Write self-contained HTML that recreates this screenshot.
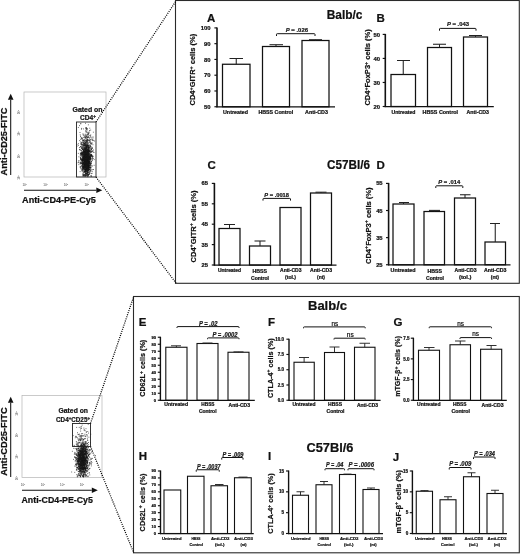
<!DOCTYPE html><html><head><meta charset="utf-8"><style>html,body{margin:0;padding:0;background:#fff}svg{display:block;filter:blur(0.3px)}</style></head><body>
<svg width="520" height="554" viewBox="0 0 520 554" font-family="Liberation Sans, sans-serif"><style>text{stroke:#111;stroke-width:0.22px;stroke-linejoin:round}</style>
<rect width="520" height="554" fill="#fff"/>
<rect x="175.5" y="0.5" width="343.8" height="282.8" fill="none" stroke="#2a2a2a" stroke-width="1.1"/>
<rect x="133.5" y="296.5" width="385.8" height="256.3" fill="none" stroke="#2a2a2a" stroke-width="1.1"/>
<rect x="222.50" y="64.25" width="27.50" height="42.50" fill="#fff" stroke="#111" stroke-width="1.25"/>
<rect x="262.50" y="46.50" width="27.00" height="60.25" fill="#fff" stroke="#111" stroke-width="1.25"/>
<rect x="302.00" y="40.50" width="27.00" height="66.25" fill="#fff" stroke="#111" stroke-width="1.25"/>
<line x1="236.25" y1="64.25" x2="236.25" y2="58.50" stroke="#222" stroke-width="1.0625" />
<line x1="229.50" y1="58.50" x2="243.00" y2="58.50" stroke="#222" stroke-width="1.0625" />
<line x1="276.00" y1="46.50" x2="276.00" y2="44.70" stroke="#222" stroke-width="1.0625" />
<line x1="269.50" y1="44.70" x2="283.00" y2="44.70" stroke="#222" stroke-width="1.0625" />
<line x1="315.50" y1="40.50" x2="315.50" y2="39.70" stroke="#222" stroke-width="1.0625" />
<line x1="309.00" y1="39.70" x2="322.00" y2="39.70" stroke="#222" stroke-width="1.0625" />
<line x1="217.00" y1="27.40" x2="217.00" y2="107.35" stroke="#111" stroke-width="1.6" />
<line x1="216.40" y1="106.75" x2="335.00" y2="106.75" stroke="#111" stroke-width="1.25" />
<line x1="214.40" y1="27.90" x2="217.00" y2="27.90" stroke="#111" stroke-width="1.15" />
<text x="210.50" y="30.02" font-size="5.9" font-weight="bold" text-anchor="end" fill="#111" >100</text>
<line x1="214.40" y1="43.67" x2="217.00" y2="43.67" stroke="#111" stroke-width="1.15" />
<text x="210.50" y="45.79" font-size="5.9" font-weight="bold" text-anchor="end" fill="#111" >90</text>
<line x1="214.40" y1="59.44" x2="217.00" y2="59.44" stroke="#111" stroke-width="1.15" />
<text x="210.50" y="61.56" font-size="5.9" font-weight="bold" text-anchor="end" fill="#111" >80</text>
<line x1="214.40" y1="75.21" x2="217.00" y2="75.21" stroke="#111" stroke-width="1.15" />
<text x="210.50" y="77.33" font-size="5.9" font-weight="bold" text-anchor="end" fill="#111" >70</text>
<line x1="214.40" y1="90.98" x2="217.00" y2="90.98" stroke="#111" stroke-width="1.15" />
<text x="210.50" y="93.10" font-size="5.9" font-weight="bold" text-anchor="end" fill="#111" >60</text>
<line x1="214.40" y1="106.75" x2="217.00" y2="106.75" stroke="#111" stroke-width="1.15" />
<text x="210.50" y="108.87" font-size="5.9" font-weight="bold" text-anchor="end" fill="#111" >50</text>
<text x="223.00" y="114.20" font-size="5.3" font-weight="bold" text-anchor="start" textLength="25.00" lengthAdjust="spacingAndGlyphs" fill="#111" >Untreated</text>
<text x="258.50" y="114.20" font-size="5.3" font-weight="bold" text-anchor="start" textLength="34.80" lengthAdjust="spacingAndGlyphs" fill="#111" >HBSS Control</text>
<text x="305.00" y="114.20" font-size="5.3" font-weight="bold" text-anchor="start" textLength="23.00" lengthAdjust="spacingAndGlyphs" fill="#111" >Anti-CD3</text>
<text transform="translate(195.34,69.62) rotate(-90)" font-size="7.9" font-weight="bold" text-anchor="middle" textLength="71.75" lengthAdjust="spacingAndGlyphs" fill="#111">CD4<tspan dy="-2.4" font-size="70%">+</tspan><tspan dy="2.4">GITR<tspan dy="-2.4" font-size="70%">+</tspan><tspan dy="2.4"> cells (%)</tspan></tspan></text>
<path d="M276.50,36.00 L276.50,34.30 Q276.50,33.70 277.30,33.70 L314.20,33.70 Q315.00,33.70 315.00,34.30 L315.00,36.00" fill="none" stroke="#111" stroke-width="1.0"/>
<text x="285.75" y="31.90" font-size="6.2" font-weight="bold" text-anchor="start" textLength="22.25" lengthAdjust="spacingAndGlyphs" fill="#222" ><tspan font-style="italic">P</tspan> = .026</text>
<text x="207.00" y="21.50" font-size="11.5" font-weight="bold" text-anchor="start" fill="#111" >A</text>
<rect x="391.00" y="74.50" width="24.50" height="32.00" fill="#fff" stroke="#111" stroke-width="1.25"/>
<rect x="427.50" y="47.50" width="24.00" height="59.00" fill="#fff" stroke="#111" stroke-width="1.25"/>
<rect x="463.50" y="37.00" width="24.00" height="69.50" fill="#fff" stroke="#111" stroke-width="1.25"/>
<line x1="403.25" y1="74.50" x2="403.25" y2="60.50" stroke="#222" stroke-width="1.0625" />
<line x1="397.00" y1="60.50" x2="410.00" y2="60.50" stroke="#222" stroke-width="1.0625" />
<line x1="439.50" y1="47.50" x2="439.50" y2="44.25" stroke="#222" stroke-width="1.0625" />
<line x1="433.00" y1="44.25" x2="446.00" y2="44.25" stroke="#222" stroke-width="1.0625" />
<line x1="475.50" y1="37.00" x2="475.50" y2="35.50" stroke="#222" stroke-width="1.0625" />
<line x1="469.00" y1="35.50" x2="482.00" y2="35.50" stroke="#222" stroke-width="1.0625" />
<line x1="385.30" y1="33.90" x2="385.30" y2="107.10" stroke="#111" stroke-width="1.6" />
<line x1="384.70" y1="106.50" x2="493.80" y2="106.50" stroke="#111" stroke-width="1.25" />
<line x1="382.70" y1="34.40" x2="385.30" y2="34.40" stroke="#111" stroke-width="1.15" />
<text x="380.00" y="36.52" font-size="5.9" font-weight="bold" text-anchor="end" fill="#111" >50</text>
<line x1="382.70" y1="58.43" x2="385.30" y2="58.43" stroke="#111" stroke-width="1.15" />
<text x="380.00" y="60.56" font-size="5.9" font-weight="bold" text-anchor="end" fill="#111" >40</text>
<line x1="382.70" y1="82.47" x2="385.30" y2="82.47" stroke="#111" stroke-width="1.15" />
<text x="380.00" y="84.59" font-size="5.9" font-weight="bold" text-anchor="end" fill="#111" >30</text>
<line x1="382.70" y1="106.50" x2="385.30" y2="106.50" stroke="#111" stroke-width="1.15" />
<text x="380.00" y="108.62" font-size="5.9" font-weight="bold" text-anchor="end" fill="#111" >20</text>
<text x="391.50" y="114.40" font-size="5.3" font-weight="bold" text-anchor="start" textLength="24.00" lengthAdjust="spacingAndGlyphs" fill="#111" >Untreated</text>
<text x="422.50" y="114.40" font-size="5.3" font-weight="bold" text-anchor="start" textLength="35.50" lengthAdjust="spacingAndGlyphs" fill="#111" >HBSS Control</text>
<text x="466.50" y="114.40" font-size="5.3" font-weight="bold" text-anchor="start" textLength="22.50" lengthAdjust="spacingAndGlyphs" fill="#111" >Anti-CD3</text>
<text transform="translate(370.14,67.45) rotate(-90)" font-size="7.9" font-weight="bold" text-anchor="middle" textLength="76.30" lengthAdjust="spacingAndGlyphs" fill="#111">CD4<tspan dy="-2.4" font-size="70%">+</tspan><tspan dy="2.4">FoxP3<tspan dy="-2.4" font-size="70%">+</tspan><tspan dy="2.4"> cells (%)</tspan></tspan></text>
<path d="M439.50,30.70 L439.50,29.00 Q439.50,28.40 440.30,28.40 L475.20,28.40 Q476.00,28.40 476.00,29.00 L476.00,30.70" fill="none" stroke="#111" stroke-width="1.0"/>
<text x="447.00" y="26.30" font-size="6.2" font-weight="bold" text-anchor="start" textLength="22.00" lengthAdjust="spacingAndGlyphs" fill="#222" ><tspan font-style="italic">P</tspan> = .043</text>
<text x="376.40" y="21.60" font-size="11.5" font-weight="bold" text-anchor="start" fill="#111" >B</text>
<text x="326.75" y="19.20" font-size="12" font-weight="bold" text-anchor="start" textLength="35.75" lengthAdjust="spacingAndGlyphs" fill="#111" >Balb/c</text>
<rect x="219.00" y="228.50" width="21.00" height="36.50" fill="#fff" stroke="#111" stroke-width="1.25"/>
<rect x="249.50" y="246.00" width="21.00" height="19.00" fill="#fff" stroke="#111" stroke-width="1.25"/>
<rect x="280.00" y="207.50" width="21.00" height="57.50" fill="#fff" stroke="#111" stroke-width="1.25"/>
<rect x="310.50" y="193.00" width="21.00" height="72.00" fill="#fff" stroke="#111" stroke-width="1.25"/>
<line x1="229.50" y1="228.50" x2="229.50" y2="224.50" stroke="#222" stroke-width="1.0625" />
<line x1="224.00" y1="224.50" x2="235.00" y2="224.50" stroke="#222" stroke-width="1.0625" />
<line x1="260.00" y1="246.00" x2="260.00" y2="241.00" stroke="#222" stroke-width="1.0625" />
<line x1="254.50" y1="241.00" x2="265.50" y2="241.00" stroke="#222" stroke-width="1.0625" />
<line x1="321.00" y1="193.00" x2="321.00" y2="192.20" stroke="#222" stroke-width="1.0625" />
<line x1="315.50" y1="192.20" x2="326.50" y2="192.20" stroke="#222" stroke-width="1.0625" />
<line x1="214.40" y1="182.90" x2="214.40" y2="265.60" stroke="#111" stroke-width="1.6" />
<line x1="213.80" y1="265.00" x2="336.50" y2="265.00" stroke="#111" stroke-width="1.25" />
<line x1="211.80" y1="183.40" x2="214.40" y2="183.40" stroke="#111" stroke-width="1.15" />
<text x="208.00" y="185.49" font-size="5.8" font-weight="bold" text-anchor="end" fill="#111" >65</text>
<line x1="211.80" y1="203.80" x2="214.40" y2="203.80" stroke="#111" stroke-width="1.15" />
<text x="208.00" y="205.89" font-size="5.8" font-weight="bold" text-anchor="end" fill="#111" >55</text>
<line x1="211.80" y1="224.20" x2="214.40" y2="224.20" stroke="#111" stroke-width="1.15" />
<text x="208.00" y="226.29" font-size="5.8" font-weight="bold" text-anchor="end" fill="#111" >45</text>
<line x1="211.80" y1="244.60" x2="214.40" y2="244.60" stroke="#111" stroke-width="1.15" />
<text x="208.00" y="246.69" font-size="5.8" font-weight="bold" text-anchor="end" fill="#111" >35</text>
<line x1="211.80" y1="265.00" x2="214.40" y2="265.00" stroke="#111" stroke-width="1.15" />
<text x="208.00" y="267.09" font-size="5.8" font-weight="bold" text-anchor="end" fill="#111" >25</text>
<text x="218.00" y="272.00" font-size="4.9" font-weight="bold" text-anchor="start" textLength="23.00" lengthAdjust="spacingAndGlyphs" fill="#111" >Untreated</text>
<text x="252.50" y="273.20" font-size="4.9" font-weight="bold" text-anchor="start" textLength="14.50" lengthAdjust="spacingAndGlyphs" fill="#111" >HBSS</text>
<text x="251.00" y="280.10" font-size="4.9" font-weight="bold" text-anchor="start" textLength="18.00" lengthAdjust="spacingAndGlyphs" fill="#111" >Control</text>
<text x="280.00" y="272.00" font-size="4.9" font-weight="bold" text-anchor="start" textLength="21.50" lengthAdjust="spacingAndGlyphs" fill="#111" >Anti-CD3</text>
<text x="285.00" y="279.30" font-size="4.9" font-weight="bold" text-anchor="start" textLength="11.00" lengthAdjust="spacingAndGlyphs" fill="#111" >(tol.)</text>
<text x="310.00" y="272.00" font-size="4.9" font-weight="bold" text-anchor="start" textLength="22.00" lengthAdjust="spacingAndGlyphs" fill="#111" >Anti-CD3</text>
<text x="317.00" y="279.30" font-size="4.9" font-weight="bold" text-anchor="start" textLength="8.00" lengthAdjust="spacingAndGlyphs" fill="#111" >(nt)</text>
<text transform="translate(195.59,226.50) rotate(-90)" font-size="7.9" font-weight="bold" text-anchor="middle" textLength="72.00" lengthAdjust="spacingAndGlyphs" fill="#111">CD4<tspan dy="-2.4" font-size="70%">+</tspan><tspan dy="2.4">GITR<tspan dy="-2.4" font-size="70%">+</tspan><tspan dy="2.4"> cells (%)</tspan></tspan></text>
<path d="M263.00,200.60 L263.00,199.00 Q263.00,198.40 263.80,198.40 L289.70,198.40 Q290.50,198.40 290.50,199.00 L290.50,200.60" fill="none" stroke="#111" stroke-width="1.0"/>
<text x="264.30" y="197.10" font-size="5.8" font-weight="bold" text-anchor="start" textLength="24.70" lengthAdjust="spacingAndGlyphs" fill="#222" ><tspan font-style="italic">P</tspan> = .0018</text>
<text x="207.50" y="168.70" font-size="11.5" font-weight="bold" text-anchor="start" fill="#111" >C</text>
<text x="327.00" y="169.00" font-size="12" font-weight="bold" text-anchor="start" textLength="43.00" lengthAdjust="spacingAndGlyphs" fill="#111" >C57Bl/6</text>
<text x="376.50" y="169.00" font-size="11.5" font-weight="bold" text-anchor="start" fill="#111" >D</text>
<rect x="393.00" y="204.00" width="21.00" height="60.75" fill="#fff" stroke="#111" stroke-width="1.25"/>
<rect x="424.00" y="211.50" width="20.50" height="53.25" fill="#fff" stroke="#111" stroke-width="1.25"/>
<rect x="454.50" y="198.00" width="21.00" height="66.75" fill="#fff" stroke="#111" stroke-width="1.25"/>
<rect x="485.00" y="242.00" width="20.50" height="22.75" fill="#fff" stroke="#111" stroke-width="1.25"/>
<line x1="403.50" y1="204.00" x2="403.50" y2="202.50" stroke="#222" stroke-width="1.0625" />
<line x1="399.00" y1="202.50" x2="409.00" y2="202.50" stroke="#222" stroke-width="1.0625" />
<line x1="434.25" y1="211.50" x2="434.25" y2="210.40" stroke="#222" stroke-width="1.0625" />
<line x1="429.00" y1="210.40" x2="440.00" y2="210.40" stroke="#222" stroke-width="1.0625" />
<line x1="465.00" y1="198.00" x2="465.00" y2="194.75" stroke="#222" stroke-width="1.0625" />
<line x1="460.00" y1="194.75" x2="470.50" y2="194.75" stroke="#222" stroke-width="1.0625" />
<line x1="495.25" y1="242.00" x2="495.25" y2="223.50" stroke="#222" stroke-width="1.0625" />
<line x1="490.00" y1="223.50" x2="500.00" y2="223.50" stroke="#222" stroke-width="1.0625" />
<line x1="388.60" y1="182.90" x2="388.60" y2="265.35" stroke="#111" stroke-width="1.6" />
<line x1="388.00" y1="264.75" x2="510.50" y2="264.75" stroke="#111" stroke-width="1.25" />
<line x1="386.00" y1="183.40" x2="388.60" y2="183.40" stroke="#111" stroke-width="1.15" />
<text x="382.60" y="185.49" font-size="5.8" font-weight="bold" text-anchor="end" fill="#111" >55</text>
<line x1="386.00" y1="210.52" x2="388.60" y2="210.52" stroke="#111" stroke-width="1.15" />
<text x="382.60" y="212.60" font-size="5.8" font-weight="bold" text-anchor="end" fill="#111" >45</text>
<line x1="386.00" y1="237.63" x2="388.60" y2="237.63" stroke="#111" stroke-width="1.15" />
<text x="382.60" y="239.72" font-size="5.8" font-weight="bold" text-anchor="end" fill="#111" >35</text>
<line x1="386.00" y1="264.75" x2="388.60" y2="264.75" stroke="#111" stroke-width="1.15" />
<text x="382.60" y="266.84" font-size="5.8" font-weight="bold" text-anchor="end" fill="#111" >25</text>
<text x="390.60" y="272.00" font-size="4.9" font-weight="bold" text-anchor="start" textLength="24.90" lengthAdjust="spacingAndGlyphs" fill="#111" >Untreated</text>
<text x="427.50" y="273.20" font-size="4.9" font-weight="bold" text-anchor="start" textLength="14.50" lengthAdjust="spacingAndGlyphs" fill="#111" >HBSS</text>
<text x="426.00" y="280.10" font-size="4.9" font-weight="bold" text-anchor="start" textLength="18.00" lengthAdjust="spacingAndGlyphs" fill="#111" >Control</text>
<text x="454.50" y="272.00" font-size="4.9" font-weight="bold" text-anchor="start" textLength="22.00" lengthAdjust="spacingAndGlyphs" fill="#111" >Anti-CD3</text>
<text x="459.00" y="279.30" font-size="4.9" font-weight="bold" text-anchor="start" textLength="12.40" lengthAdjust="spacingAndGlyphs" fill="#111" >(tol.)</text>
<text x="484.00" y="272.00" font-size="4.9" font-weight="bold" text-anchor="start" textLength="22.50" lengthAdjust="spacingAndGlyphs" fill="#111" >Anti-CD3</text>
<text x="490.80" y="279.30" font-size="4.9" font-weight="bold" text-anchor="start" textLength="8.20" lengthAdjust="spacingAndGlyphs" fill="#111" >(nt)</text>
<text transform="translate(370.59,225.75) rotate(-90)" font-size="7.9" font-weight="bold" text-anchor="middle" textLength="76.50" lengthAdjust="spacingAndGlyphs" fill="#111">CD4<tspan dy="-2.4" font-size="70%">+</tspan><tspan dy="2.4">FoxP3<tspan dy="-2.4" font-size="70%">+</tspan><tspan dy="2.4"> cells (%)</tspan></tspan></text>
<path d="M435.80,188.00 L435.80,186.40 Q435.80,185.80 436.60,185.80 L462.00,185.80 Q462.80,185.80 462.80,186.40 L462.80,188.00" fill="none" stroke="#111" stroke-width="1.0"/>
<text x="438.30" y="183.90" font-size="5.8" font-weight="bold" text-anchor="start" textLength="21.90" lengthAdjust="spacingAndGlyphs" fill="#222" ><tspan font-style="italic">P</tspan> = .014</text>
<rect x="165.80" y="347.25" width="21.20" height="53.00" fill="#fff" stroke="#111" stroke-width="1.1"/>
<rect x="197.00" y="343.50" width="21.00" height="56.75" fill="#fff" stroke="#111" stroke-width="1.1"/>
<rect x="228.00" y="352.25" width="21.00" height="48.00" fill="#fff" stroke="#111" stroke-width="1.1"/>
<line x1="176.40" y1="347.25" x2="176.40" y2="345.80" stroke="#222" stroke-width="0.935" />
<line x1="171.00" y1="345.80" x2="181.00" y2="345.80" stroke="#222" stroke-width="0.935" />
<line x1="207.50" y1="343.50" x2="207.50" y2="343.00" stroke="#222" stroke-width="0.935" />
<line x1="202.50" y1="343.00" x2="212.50" y2="343.00" stroke="#222" stroke-width="0.935" />
<line x1="238.50" y1="352.25" x2="238.50" y2="351.90" stroke="#222" stroke-width="0.935" />
<line x1="233.50" y1="351.90" x2="243.50" y2="351.90" stroke="#222" stroke-width="0.935" />
<line x1="160.40" y1="336.75" x2="160.40" y2="400.85" stroke="#111" stroke-width="1.4" />
<line x1="159.80" y1="400.25" x2="254.80" y2="400.25" stroke="#111" stroke-width="1.25" />
<line x1="157.80" y1="337.25" x2="160.40" y2="337.25" stroke="#111" stroke-width="1.15" />
<text x="156.00" y="338.69" font-size="4.0" font-weight="bold" text-anchor="end" fill="#111" >90</text>
<line x1="157.80" y1="344.25" x2="160.40" y2="344.25" stroke="#111" stroke-width="1.15" />
<text x="156.00" y="345.69" font-size="4.0" font-weight="bold" text-anchor="end" fill="#111" >80</text>
<line x1="157.80" y1="351.25" x2="160.40" y2="351.25" stroke="#111" stroke-width="1.15" />
<text x="156.00" y="352.69" font-size="4.0" font-weight="bold" text-anchor="end" fill="#111" >70</text>
<line x1="157.80" y1="358.25" x2="160.40" y2="358.25" stroke="#111" stroke-width="1.15" />
<text x="156.00" y="359.69" font-size="4.0" font-weight="bold" text-anchor="end" fill="#111" >60</text>
<line x1="157.80" y1="365.25" x2="160.40" y2="365.25" stroke="#111" stroke-width="1.15" />
<text x="156.00" y="366.69" font-size="4.0" font-weight="bold" text-anchor="end" fill="#111" >50</text>
<line x1="157.80" y1="372.25" x2="160.40" y2="372.25" stroke="#111" stroke-width="1.15" />
<text x="156.00" y="373.69" font-size="4.0" font-weight="bold" text-anchor="end" fill="#111" >40</text>
<line x1="157.80" y1="379.25" x2="160.40" y2="379.25" stroke="#111" stroke-width="1.15" />
<text x="156.00" y="380.69" font-size="4.0" font-weight="bold" text-anchor="end" fill="#111" >30</text>
<line x1="157.80" y1="386.25" x2="160.40" y2="386.25" stroke="#111" stroke-width="1.15" />
<text x="156.00" y="387.69" font-size="4.0" font-weight="bold" text-anchor="end" fill="#111" >20</text>
<line x1="157.80" y1="393.25" x2="160.40" y2="393.25" stroke="#111" stroke-width="1.15" />
<text x="156.00" y="394.69" font-size="4.0" font-weight="bold" text-anchor="end" fill="#111" >10</text>
<line x1="157.80" y1="400.25" x2="160.40" y2="400.25" stroke="#111" stroke-width="1.15" />
<text x="156.00" y="401.69" font-size="4.0" font-weight="bold" text-anchor="end" fill="#111" >0</text>
<text x="164.25" y="406.00" font-size="5.0" font-weight="bold" text-anchor="start" textLength="23.75" lengthAdjust="spacingAndGlyphs" fill="#111" >Untreated</text>
<text x="201.25" y="406.30" font-size="5.0" font-weight="bold" text-anchor="start" textLength="13.25" lengthAdjust="spacingAndGlyphs" fill="#111" >HBSS</text>
<text x="199.00" y="412.60" font-size="5.0" font-weight="bold" text-anchor="start" textLength="17.50" lengthAdjust="spacingAndGlyphs" fill="#111" >Control</text>
<text x="228.50" y="407.20" font-size="5.0" font-weight="bold" text-anchor="start" textLength="21.50" lengthAdjust="spacingAndGlyphs" fill="#111" >Anti-CD3</text>
<text transform="translate(144.94,368.30) rotate(-90)" font-size="7.6" font-weight="bold" text-anchor="middle" textLength="57.00" lengthAdjust="spacingAndGlyphs" fill="#111">CD62L<tspan dy="-2.4" font-size="70%">+</tspan><tspan dy="2.4"> cells (%)</tspan></text>
<path d="M177.00,328.00 L177.00,327.20 Q177.00,326.60 177.80,326.60 L238.20,326.60 Q239.00,326.60 239.00,327.20 L239.00,328.00" fill="none" stroke="#111" stroke-width="1.0"/>
<text x="199.00" y="326.00" font-size="6.3" font-weight="bold" text-anchor="start" textLength="18.50" lengthAdjust="spacingAndGlyphs" font-style="italic" fill="#222" >P = .02</text>
<path d="M207.50,339.20 L207.50,338.50 Q207.50,337.90 208.30,337.90 L238.20,337.90 Q239.00,337.90 239.00,338.50 L239.00,339.20" fill="none" stroke="#111" stroke-width="1.0"/>
<text x="212.50" y="337.00" font-size="6.3" font-weight="bold" text-anchor="start" textLength="25.00" lengthAdjust="spacingAndGlyphs" font-style="italic" fill="#222" >P = .0002</text>
<text x="138.80" y="326.00" font-size="11.5" font-weight="bold" text-anchor="start" fill="#111" >E</text>
<text x="308.00" y="310.00" font-size="13" font-weight="bold" text-anchor="start" textLength="39.00" lengthAdjust="spacingAndGlyphs" fill="#111" >Balb/c</text>
<rect x="294.00" y="362.25" width="20.25" height="38.00" fill="#fff" stroke="#111" stroke-width="1.1"/>
<rect x="324.50" y="352.50" width="20.00" height="47.75" fill="#fff" stroke="#111" stroke-width="1.1"/>
<rect x="354.50" y="347.25" width="20.50" height="53.00" fill="#fff" stroke="#111" stroke-width="1.1"/>
<line x1="304.12" y1="362.25" x2="304.12" y2="357.50" stroke="#222" stroke-width="0.935" />
<line x1="299.00" y1="357.50" x2="309.00" y2="357.50" stroke="#222" stroke-width="0.935" />
<line x1="334.50" y1="352.50" x2="334.50" y2="347.00" stroke="#222" stroke-width="0.935" />
<line x1="329.50" y1="347.00" x2="339.50" y2="347.00" stroke="#222" stroke-width="0.935" />
<line x1="364.75" y1="347.25" x2="364.75" y2="343.25" stroke="#222" stroke-width="0.935" />
<line x1="359.50" y1="343.25" x2="370.00" y2="343.25" stroke="#222" stroke-width="0.935" />
<line x1="289.00" y1="338.70" x2="289.00" y2="400.85" stroke="#111" stroke-width="1.4" />
<line x1="288.40" y1="400.25" x2="380.60" y2="400.25" stroke="#111" stroke-width="1.25" />
<line x1="286.40" y1="339.20" x2="289.00" y2="339.20" stroke="#111" stroke-width="1.15" />
<text x="284.00" y="340.82" font-size="4.5" font-weight="bold" text-anchor="end" fill="#111" >10.0</text>
<line x1="286.40" y1="354.46" x2="289.00" y2="354.46" stroke="#111" stroke-width="1.15" />
<text x="284.00" y="356.08" font-size="4.5" font-weight="bold" text-anchor="end" fill="#111" >7.5</text>
<line x1="286.40" y1="369.73" x2="289.00" y2="369.73" stroke="#111" stroke-width="1.15" />
<text x="284.00" y="371.35" font-size="4.5" font-weight="bold" text-anchor="end" fill="#111" >5.0</text>
<line x1="286.40" y1="384.99" x2="289.00" y2="384.99" stroke="#111" stroke-width="1.15" />
<text x="284.00" y="386.61" font-size="4.5" font-weight="bold" text-anchor="end" fill="#111" >2.5</text>
<line x1="286.40" y1="400.25" x2="289.00" y2="400.25" stroke="#111" stroke-width="1.15" />
<text x="284.00" y="401.87" font-size="4.5" font-weight="bold" text-anchor="end" fill="#111" >0.0</text>
<text x="292.50" y="406.00" font-size="5.0" font-weight="bold" text-anchor="start" textLength="23.00" lengthAdjust="spacingAndGlyphs" fill="#111" >Untreated</text>
<text x="328.00" y="406.30" font-size="5.0" font-weight="bold" text-anchor="start" textLength="14.00" lengthAdjust="spacingAndGlyphs" fill="#111" >HBSS</text>
<text x="326.50" y="412.60" font-size="5.0" font-weight="bold" text-anchor="start" textLength="18.00" lengthAdjust="spacingAndGlyphs" fill="#111" >Control</text>
<text x="357.00" y="407.20" font-size="5.0" font-weight="bold" text-anchor="start" textLength="21.00" lengthAdjust="spacingAndGlyphs" fill="#111" >Anti-CD3</text>
<text transform="translate(272.54,368.20) rotate(-90)" font-size="7.6" font-weight="bold" text-anchor="middle" textLength="59.80" lengthAdjust="spacingAndGlyphs" fill="#111">CTLA-4<tspan dy="-2.4" font-size="70%">+</tspan><tspan dy="2.4"> cells (%)</tspan></text>
<path d="M303.50,328.30 L303.50,327.50 Q303.50,326.90 304.30,326.90 L364.40,326.90 Q365.20,326.90 365.20,327.50 L365.20,328.30" fill="none" stroke="#111" stroke-width="1.0"/>
<text x="331.50" y="325.90" font-size="6.6" font-weight="normal" text-anchor="start" textLength="6.70" lengthAdjust="spacingAndGlyphs" fill="#111" >ns</text>
<path d="M334.00,339.50 L334.00,338.80 Q334.00,338.20 334.80,338.20 L364.40,338.20 Q365.20,338.20 365.20,338.80 L365.20,339.50" fill="none" stroke="#111" stroke-width="1.0"/>
<text x="346.80" y="337.20" font-size="6.6" font-weight="normal" text-anchor="start" textLength="6.90" lengthAdjust="spacingAndGlyphs" fill="#111" >ns</text>
<text x="268.00" y="326.00" font-size="11.5" font-weight="bold" text-anchor="start" fill="#111" >F</text>
<rect x="418.50" y="350.25" width="21.00" height="50.00" fill="#fff" stroke="#111" stroke-width="1.1"/>
<rect x="450.00" y="344.75" width="20.50" height="55.50" fill="#fff" stroke="#111" stroke-width="1.1"/>
<rect x="480.60" y="349.25" width="21.10" height="51.00" fill="#fff" stroke="#111" stroke-width="1.1"/>
<line x1="429.00" y1="350.25" x2="429.00" y2="347.50" stroke="#222" stroke-width="0.935" />
<line x1="424.00" y1="347.50" x2="434.50" y2="347.50" stroke="#222" stroke-width="0.935" />
<line x1="460.25" y1="344.75" x2="460.25" y2="341.00" stroke="#222" stroke-width="0.935" />
<line x1="455.00" y1="341.00" x2="465.50" y2="341.00" stroke="#222" stroke-width="0.935" />
<line x1="491.15" y1="349.25" x2="491.15" y2="345.50" stroke="#222" stroke-width="0.935" />
<line x1="486.50" y1="345.50" x2="496.50" y2="345.50" stroke="#222" stroke-width="0.935" />
<line x1="413.40" y1="337.70" x2="413.40" y2="400.85" stroke="#111" stroke-width="1.4" />
<line x1="412.80" y1="400.25" x2="506.80" y2="400.25" stroke="#111" stroke-width="1.25" />
<line x1="410.80" y1="338.20" x2="413.40" y2="338.20" stroke="#111" stroke-width="1.15" />
<text x="409.60" y="339.82" font-size="4.5" font-weight="bold" text-anchor="end" fill="#111" >7.5</text>
<line x1="410.80" y1="358.88" x2="413.40" y2="358.88" stroke="#111" stroke-width="1.15" />
<text x="409.60" y="360.50" font-size="4.5" font-weight="bold" text-anchor="end" fill="#111" >5.0</text>
<line x1="410.80" y1="379.57" x2="413.40" y2="379.57" stroke="#111" stroke-width="1.15" />
<text x="409.60" y="381.19" font-size="4.5" font-weight="bold" text-anchor="end" fill="#111" >2.5</text>
<line x1="410.80" y1="400.25" x2="413.40" y2="400.25" stroke="#111" stroke-width="1.15" />
<text x="409.60" y="401.87" font-size="4.5" font-weight="bold" text-anchor="end" fill="#111" >0.0</text>
<text x="417.00" y="406.00" font-size="5.0" font-weight="bold" text-anchor="start" textLength="23.50" lengthAdjust="spacingAndGlyphs" fill="#111" >Untreated</text>
<text x="453.00" y="406.30" font-size="5.0" font-weight="bold" text-anchor="start" textLength="13.50" lengthAdjust="spacingAndGlyphs" fill="#111" >HBSS</text>
<text x="451.50" y="412.60" font-size="5.0" font-weight="bold" text-anchor="start" textLength="18.50" lengthAdjust="spacingAndGlyphs" fill="#111" >Control</text>
<text x="481.50" y="407.40" font-size="5.0" font-weight="bold" text-anchor="start" textLength="22.00" lengthAdjust="spacingAndGlyphs" fill="#111" >Anti-CD3</text>
<text transform="translate(400.24,366.40) rotate(-90)" font-size="7.6" font-weight="bold" text-anchor="middle" textLength="60.80" lengthAdjust="spacingAndGlyphs" fill="#111">mTGF-β<tspan dy="-2.4" font-size="70%">+</tspan><tspan dy="2.4"> cells (%)</tspan></text>
<path d="M429.25,328.20 L429.25,327.40 Q429.25,326.80 430.05,326.80 L490.70,326.80 Q491.50,326.80 491.50,327.40 L491.50,328.20" fill="none" stroke="#111" stroke-width="1.0"/>
<text x="457.20" y="326.00" font-size="6.6" font-weight="normal" text-anchor="start" textLength="6.70" lengthAdjust="spacingAndGlyphs" fill="#111" >ns</text>
<path d="M460.00,339.00 L460.00,338.20 Q460.00,337.60 460.80,337.60 L490.70,337.60 Q491.50,337.60 491.50,338.20 L491.50,339.00" fill="none" stroke="#111" stroke-width="1.0"/>
<text x="472.20" y="336.40" font-size="6.6" font-weight="normal" text-anchor="start" textLength="6.70" lengthAdjust="spacingAndGlyphs" fill="#111" >ns</text>
<text x="393.50" y="326.30" font-size="11.5" font-weight="bold" text-anchor="start" fill="#111" >G</text>
<rect x="164.00" y="490.00" width="16.75" height="43.50" fill="#fff" stroke="#111" stroke-width="1.1"/>
<rect x="187.50" y="476.25" width="16.50" height="57.25" fill="#fff" stroke="#111" stroke-width="1.1"/>
<rect x="211.00" y="485.75" width="16.50" height="47.75" fill="#fff" stroke="#111" stroke-width="1.1"/>
<rect x="234.50" y="477.75" width="16.75" height="55.75" fill="#fff" stroke="#111" stroke-width="1.1"/>
<line x1="219.25" y1="485.75" x2="219.25" y2="484.50" stroke="#222" stroke-width="0.935" />
<line x1="215.00" y1="484.50" x2="223.50" y2="484.50" stroke="#222" stroke-width="0.935" />
<line x1="242.88" y1="477.75" x2="242.88" y2="477.10" stroke="#222" stroke-width="0.935" />
<line x1="238.50" y1="477.10" x2="247.50" y2="477.10" stroke="#222" stroke-width="0.935" />
<line x1="160.50" y1="470.50" x2="160.50" y2="534.10" stroke="#111" stroke-width="1.4" />
<line x1="159.90" y1="533.50" x2="253.75" y2="533.50" stroke="#111" stroke-width="1.25" />
<line x1="157.90" y1="471.00" x2="160.50" y2="471.00" stroke="#111" stroke-width="1.15" />
<text x="156.00" y="472.44" font-size="4.0" font-weight="bold" text-anchor="end" fill="#111" >90</text>
<line x1="157.90" y1="477.94" x2="160.50" y2="477.94" stroke="#111" stroke-width="1.15" />
<text x="156.00" y="479.38" font-size="4.0" font-weight="bold" text-anchor="end" fill="#111" >80</text>
<line x1="157.90" y1="484.89" x2="160.50" y2="484.89" stroke="#111" stroke-width="1.15" />
<text x="156.00" y="486.33" font-size="4.0" font-weight="bold" text-anchor="end" fill="#111" >70</text>
<line x1="157.90" y1="491.83" x2="160.50" y2="491.83" stroke="#111" stroke-width="1.15" />
<text x="156.00" y="493.27" font-size="4.0" font-weight="bold" text-anchor="end" fill="#111" >60</text>
<line x1="157.90" y1="498.78" x2="160.50" y2="498.78" stroke="#111" stroke-width="1.15" />
<text x="156.00" y="500.22" font-size="4.0" font-weight="bold" text-anchor="end" fill="#111" >50</text>
<line x1="157.90" y1="505.72" x2="160.50" y2="505.72" stroke="#111" stroke-width="1.15" />
<text x="156.00" y="507.16" font-size="4.0" font-weight="bold" text-anchor="end" fill="#111" >40</text>
<line x1="157.90" y1="512.67" x2="160.50" y2="512.67" stroke="#111" stroke-width="1.15" />
<text x="156.00" y="514.11" font-size="4.0" font-weight="bold" text-anchor="end" fill="#111" >30</text>
<line x1="157.90" y1="519.61" x2="160.50" y2="519.61" stroke="#111" stroke-width="1.15" />
<text x="156.00" y="521.05" font-size="4.0" font-weight="bold" text-anchor="end" fill="#111" >20</text>
<line x1="157.90" y1="526.56" x2="160.50" y2="526.56" stroke="#111" stroke-width="1.15" />
<text x="156.00" y="528.00" font-size="4.0" font-weight="bold" text-anchor="end" fill="#111" >10</text>
<line x1="157.90" y1="533.50" x2="160.50" y2="533.50" stroke="#111" stroke-width="1.15" />
<text x="156.00" y="534.94" font-size="4.0" font-weight="bold" text-anchor="end" fill="#111" >0</text>
<text x="162.00" y="540.00" font-size="4.2" font-weight="bold" text-anchor="start" textLength="19.50" lengthAdjust="spacingAndGlyphs" fill="#111" >Untreated</text>
<text x="191.50" y="540.00" font-size="4.2" font-weight="bold" text-anchor="start" textLength="9.00" lengthAdjust="spacingAndGlyphs" fill="#111" >HBSS</text>
<text x="189.50" y="546.00" font-size="4.2" font-weight="bold" text-anchor="start" textLength="13.50" lengthAdjust="spacingAndGlyphs" fill="#111" >Control</text>
<text x="211.00" y="540.00" font-size="4.2" font-weight="bold" text-anchor="start" textLength="18.50" lengthAdjust="spacingAndGlyphs" fill="#111" >Anti-CD3</text>
<text x="215.00" y="546.00" font-size="4.2" font-weight="bold" text-anchor="start" textLength="9.50" lengthAdjust="spacingAndGlyphs" fill="#111" >(tol.)</text>
<text x="234.00" y="540.00" font-size="4.2" font-weight="bold" text-anchor="start" textLength="19.00" lengthAdjust="spacingAndGlyphs" fill="#111" >Anti-CD3</text>
<text x="240.50" y="546.00" font-size="4.2" font-weight="bold" text-anchor="start" textLength="6.00" lengthAdjust="spacingAndGlyphs" fill="#111" >(nt)</text>
<text transform="translate(144.54,502.50) rotate(-90)" font-size="7.6" font-weight="bold" text-anchor="middle" textLength="57.80" lengthAdjust="spacingAndGlyphs" fill="#111">CD62L<tspan dy="-2.4" font-size="70%">+</tspan><tspan dy="2.4"> cells (%)</tspan></text>
<path d="M196.25,471.70 L196.25,470.35 Q196.25,469.75 197.05,469.75 L218.45,469.75 Q219.25,469.75 219.25,470.35 L219.25,471.70" fill="none" stroke="#111" stroke-width="1.0"/>
<text x="197.00" y="468.50" font-size="6.3" font-weight="bold" text-anchor="start" textLength="23.50" lengthAdjust="spacingAndGlyphs" font-style="italic" fill="#222" >P = .0037</text>
<path d="M221.75,459.60 L221.75,458.10 Q221.75,457.50 222.55,457.50 L242.20,457.50 Q243.00,457.50 243.00,458.10 L243.00,459.60" fill="none" stroke="#111" stroke-width="1.0"/>
<text x="222.50" y="456.50" font-size="6.3" font-weight="bold" text-anchor="start" textLength="21.00" lengthAdjust="spacingAndGlyphs" font-style="italic" fill="#222" >P = .009</text>
<text x="138.70" y="460.30" font-size="11.5" font-weight="bold" text-anchor="start" fill="#111" >H</text>
<text x="306.50" y="451.70" font-size="13" font-weight="bold" text-anchor="start" textLength="47.00" lengthAdjust="spacingAndGlyphs" fill="#111" >C57Bl/6</text>
<rect x="292.50" y="495.25" width="16.00" height="38.25" fill="#fff" stroke="#111" stroke-width="1.1"/>
<rect x="316.00" y="484.75" width="16.00" height="48.75" fill="#fff" stroke="#111" stroke-width="1.1"/>
<rect x="339.50" y="474.50" width="16.00" height="59.00" fill="#fff" stroke="#111" stroke-width="1.1"/>
<rect x="363.00" y="489.50" width="16.00" height="44.00" fill="#fff" stroke="#111" stroke-width="1.1"/>
<line x1="300.50" y1="495.25" x2="300.50" y2="491.75" stroke="#222" stroke-width="0.935" />
<line x1="296.50" y1="491.75" x2="304.50" y2="491.75" stroke="#222" stroke-width="0.935" />
<line x1="324.00" y1="484.75" x2="324.00" y2="481.50" stroke="#222" stroke-width="0.935" />
<line x1="320.00" y1="481.50" x2="328.00" y2="481.50" stroke="#222" stroke-width="0.935" />
<line x1="347.50" y1="474.50" x2="347.50" y2="474.10" stroke="#222" stroke-width="0.935" />
<line x1="343.50" y1="474.10" x2="351.50" y2="474.10" stroke="#222" stroke-width="0.935" />
<line x1="371.00" y1="489.50" x2="371.00" y2="488.00" stroke="#222" stroke-width="0.935" />
<line x1="367.00" y1="488.00" x2="375.00" y2="488.00" stroke="#222" stroke-width="0.935" />
<line x1="288.60" y1="470.50" x2="288.60" y2="534.10" stroke="#111" stroke-width="1.4" />
<line x1="288.00" y1="533.50" x2="383.00" y2="533.50" stroke="#111" stroke-width="1.25" />
<line x1="286.00" y1="471.00" x2="288.60" y2="471.00" stroke="#111" stroke-width="1.15" />
<text x="284.00" y="472.66" font-size="4.6" font-weight="bold" text-anchor="end" fill="#111" >15</text>
<line x1="286.00" y1="491.83" x2="288.60" y2="491.83" stroke="#111" stroke-width="1.15" />
<text x="284.00" y="493.49" font-size="4.6" font-weight="bold" text-anchor="end" fill="#111" >10</text>
<line x1="286.00" y1="512.67" x2="288.60" y2="512.67" stroke="#111" stroke-width="1.15" />
<text x="284.00" y="514.32" font-size="4.6" font-weight="bold" text-anchor="end" fill="#111" >5</text>
<line x1="286.00" y1="533.50" x2="288.60" y2="533.50" stroke="#111" stroke-width="1.15" />
<text x="284.00" y="535.16" font-size="4.6" font-weight="bold" text-anchor="end" fill="#111" >0</text>
<text x="291.00" y="540.00" font-size="4.2" font-weight="bold" text-anchor="start" textLength="19.50" lengthAdjust="spacingAndGlyphs" fill="#111" >Untreated</text>
<text x="319.50" y="540.00" font-size="4.2" font-weight="bold" text-anchor="start" textLength="9.50" lengthAdjust="spacingAndGlyphs" fill="#111" >HBSS</text>
<text x="317.50" y="546.00" font-size="4.2" font-weight="bold" text-anchor="start" textLength="13.50" lengthAdjust="spacingAndGlyphs" fill="#111" >Control</text>
<text x="340.00" y="540.00" font-size="4.2" font-weight="bold" text-anchor="start" textLength="18.50" lengthAdjust="spacingAndGlyphs" fill="#111" >Anti-CD3</text>
<text x="344.00" y="546.00" font-size="4.2" font-weight="bold" text-anchor="start" textLength="9.50" lengthAdjust="spacingAndGlyphs" fill="#111" >(tol.)</text>
<text x="364.00" y="540.00" font-size="4.2" font-weight="bold" text-anchor="start" textLength="19.00" lengthAdjust="spacingAndGlyphs" fill="#111" >Anti-CD3</text>
<text x="370.00" y="546.00" font-size="4.2" font-weight="bold" text-anchor="start" textLength="6.50" lengthAdjust="spacingAndGlyphs" fill="#111" >(nt)</text>
<text transform="translate(272.94,503.50) rotate(-90)" font-size="7.6" font-weight="bold" text-anchor="middle" textLength="60.40" lengthAdjust="spacingAndGlyphs" fill="#111">CTLA-4<tspan dy="-2.4" font-size="70%">+</tspan><tspan dy="2.4"> cells (%)</tspan></text>
<path d="M325.00,470.30 L325.00,469.30 Q325.00,468.70 325.80,468.70 L343.70,468.70 Q344.50,468.70 344.50,469.30 L344.50,470.30" fill="none" stroke="#111" stroke-width="1.0"/>
<text x="326.00" y="467.40" font-size="6.3" font-weight="bold" text-anchor="start" textLength="17.30" lengthAdjust="spacingAndGlyphs" font-style="italic" fill="#222" >P = .04</text>
<path d="M348.00,470.30 L348.00,469.30 Q348.00,468.70 348.80,468.70 L373.20,468.70 Q374.00,468.70 374.00,469.30 L374.00,470.30" fill="none" stroke="#111" stroke-width="1.0"/>
<text x="348.50" y="467.40" font-size="6.3" font-weight="bold" text-anchor="start" textLength="25.50" lengthAdjust="spacingAndGlyphs" font-style="italic" fill="#222" >P = .0006</text>
<text x="268.00" y="460.10" font-size="11.5" font-weight="bold" text-anchor="start" fill="#111" >I</text>
<rect x="416.25" y="491.25" width="16.25" height="42.25" fill="#fff" stroke="#111" stroke-width="1.1"/>
<rect x="440.00" y="499.75" width="16.00" height="33.75" fill="#fff" stroke="#111" stroke-width="1.1"/>
<rect x="463.50" y="476.75" width="16.00" height="56.75" fill="#fff" stroke="#111" stroke-width="1.1"/>
<rect x="487.00" y="493.50" width="16.00" height="40.00" fill="#fff" stroke="#111" stroke-width="1.1"/>
<line x1="424.38" y1="491.25" x2="424.38" y2="490.60" stroke="#222" stroke-width="0.935" />
<line x1="420.50" y1="490.60" x2="428.50" y2="490.60" stroke="#222" stroke-width="0.935" />
<line x1="448.00" y1="499.75" x2="448.00" y2="496.75" stroke="#222" stroke-width="0.935" />
<line x1="444.00" y1="496.75" x2="452.00" y2="496.75" stroke="#222" stroke-width="0.935" />
<line x1="471.50" y1="476.75" x2="471.50" y2="472.75" stroke="#222" stroke-width="0.935" />
<line x1="467.50" y1="472.75" x2="475.50" y2="472.75" stroke="#222" stroke-width="0.935" />
<line x1="495.00" y1="493.50" x2="495.00" y2="490.25" stroke="#222" stroke-width="0.935" />
<line x1="491.00" y1="490.25" x2="499.00" y2="490.25" stroke="#222" stroke-width="0.935" />
<line x1="412.40" y1="470.50" x2="412.40" y2="534.10" stroke="#111" stroke-width="1.4" />
<line x1="411.80" y1="533.50" x2="507.00" y2="533.50" stroke="#111" stroke-width="1.25" />
<line x1="409.80" y1="471.00" x2="412.40" y2="471.00" stroke="#111" stroke-width="1.15" />
<text x="408.20" y="472.66" font-size="4.6" font-weight="bold" text-anchor="end" fill="#111" >15</text>
<line x1="409.80" y1="491.83" x2="412.40" y2="491.83" stroke="#111" stroke-width="1.15" />
<text x="408.20" y="493.49" font-size="4.6" font-weight="bold" text-anchor="end" fill="#111" >10</text>
<line x1="409.80" y1="512.67" x2="412.40" y2="512.67" stroke="#111" stroke-width="1.15" />
<text x="408.20" y="514.32" font-size="4.6" font-weight="bold" text-anchor="end" fill="#111" >5</text>
<line x1="409.80" y1="533.50" x2="412.40" y2="533.50" stroke="#111" stroke-width="1.15" />
<text x="408.20" y="535.16" font-size="4.6" font-weight="bold" text-anchor="end" fill="#111" >0</text>
<text x="415.00" y="540.00" font-size="4.2" font-weight="bold" text-anchor="start" textLength="19.50" lengthAdjust="spacingAndGlyphs" fill="#111" >Untreated</text>
<text x="442.00" y="540.00" font-size="4.2" font-weight="bold" text-anchor="start" textLength="10.00" lengthAdjust="spacingAndGlyphs" fill="#111" >HBSS</text>
<text x="441.00" y="546.00" font-size="4.2" font-weight="bold" text-anchor="start" textLength="13.50" lengthAdjust="spacingAndGlyphs" fill="#111" >Control</text>
<text x="464.50" y="540.00" font-size="4.2" font-weight="bold" text-anchor="start" textLength="18.50" lengthAdjust="spacingAndGlyphs" fill="#111" >Anti-CD3</text>
<text x="469.00" y="546.00" font-size="4.2" font-weight="bold" text-anchor="start" textLength="9.00" lengthAdjust="spacingAndGlyphs" fill="#111" >(tol.)</text>
<text x="487.50" y="540.00" font-size="4.2" font-weight="bold" text-anchor="start" textLength="19.00" lengthAdjust="spacingAndGlyphs" fill="#111" >Anti-CD3</text>
<text x="494.00" y="546.00" font-size="4.2" font-weight="bold" text-anchor="start" textLength="6.00" lengthAdjust="spacingAndGlyphs" fill="#111" >(nt)</text>
<text transform="translate(400.54,501.70) rotate(-90)" font-size="7.6" font-weight="bold" text-anchor="middle" textLength="63.40" lengthAdjust="spacingAndGlyphs" fill="#111">mTGF-β<tspan dy="-2.4" font-size="70%">+</tspan><tspan dy="2.4"> cells (%)</tspan></text>
<path d="M449.25,469.50 L449.25,468.10 Q449.25,467.50 450.05,467.50 L470.20,467.50 Q471.00,467.50 471.00,468.10 L471.00,469.50" fill="none" stroke="#111" stroke-width="1.0"/>
<text x="449.25" y="466.00" font-size="6.3" font-weight="bold" text-anchor="start" textLength="22.00" lengthAdjust="spacingAndGlyphs" font-style="italic" fill="#222" >P = .009</text>
<path d="M473.50,459.00 L473.50,457.60 Q473.50,457.00 474.30,457.00 L494.20,457.00 Q495.00,457.00 495.00,457.60 L495.00,459.00" fill="none" stroke="#111" stroke-width="1.0"/>
<text x="474.00" y="455.50" font-size="6.3" font-weight="bold" text-anchor="start" textLength="21.00" lengthAdjust="spacingAndGlyphs" font-style="italic" fill="#222" >P = .034</text>
<text x="392.70" y="460.50" font-size="11.5" font-weight="bold" text-anchor="start" fill="#111" >J</text>
<rect x="24" y="92" width="82" height="85" fill="#fff" stroke="#b4b4b4" stroke-width="0.7"/>
<path d="M83.4,162.8h.01M88.7,156.2h.01M83.1,159.5h.01M87.4,168.2h.01M83.4,150.3h.01M88.0,163.6h.01M90.0,167.4h.01M86.1,157.9h.01M92.5,157.8h.01M84.4,151.5h.01M86.5,161.1h.01M85.5,159.5h.01M87.0,165.2h.01M88.9,161.6h.01M82.0,165.3h.01M82.9,158.7h.01M82.8,160.0h.01M84.4,161.6h.01M94.2,159.6h.01M88.3,150.1h.01M85.6,165.0h.01M86.1,162.8h.01M86.5,152.5h.01M87.7,153.9h.01M90.8,156.2h.01M87.9,160.0h.01M88.6,155.5h.01M88.7,159.1h.01M89.3,164.7h.01M86.6,154.1h.01M88.1,163.5h.01M90.2,157.2h.01M87.6,163.8h.01M87.0,161.6h.01M86.7,155.5h.01M83.9,157.0h.01M87.7,171.3h.01M88.6,167.9h.01M88.2,165.2h.01M86.7,165.8h.01M90.6,157.5h.01M84.6,174.7h.01M86.9,167.3h.01M88.4,151.5h.01M92.1,173.3h.01M86.7,165.6h.01M86.6,153.4h.01M86.0,162.8h.01M89.0,165.3h.01M86.4,170.2h.01M84.5,165.9h.01M89.0,157.8h.01M82.0,153.2h.01M86.9,164.0h.01M90.0,152.5h.01M86.3,164.9h.01M85.9,142.2h.01M88.2,174.4h.01M84.1,156.9h.01M86.8,175.2h.01M86.6,171.7h.01M86.1,174.0h.01M84.7,156.4h.01M88.0,170.7h.01M87.9,162.3h.01M81.9,154.7h.01M84.8,156.0h.01M87.7,157.5h.01M88.2,160.6h.01M85.5,160.9h.01M87.3,166.4h.01M85.2,158.3h.01M83.0,172.0h.01M89.8,158.7h.01M85.2,150.7h.01M86.7,161.5h.01M91.5,161.8h.01M84.4,141.7h.01M89.7,161.4h.01M82.4,161.4h.01M82.4,174.2h.01M87.7,158.7h.01M81.2,159.1h.01M82.6,164.5h.01M81.2,153.2h.01M89.2,172.3h.01M83.5,148.5h.01M88.4,166.4h.01M83.9,154.8h.01M84.6,151.1h.01M84.7,169.4h.01M88.0,175.4h.01M86.1,159.0h.01M83.9,159.1h.01M83.1,146.7h.01M88.0,170.8h.01M88.3,170.0h.01M86.9,154.6h.01M86.5,157.2h.01M83.6,147.3h.01M82.7,160.0h.01M86.7,156.4h.01M89.7,161.3h.01M87.7,169.1h.01M84.3,145.2h.01M88.1,154.8h.01M89.4,162.5h.01M88.7,165.7h.01M81.3,165.4h.01M84.7,154.3h.01M85.3,165.8h.01M88.4,167.6h.01M82.3,155.6h.01M80.6,159.2h.01M87.7,154.3h.01M86.9,161.7h.01M88.7,153.8h.01M84.3,154.3h.01M90.5,168.2h.01M86.0,161.7h.01M86.6,161.5h.01M85.8,157.5h.01M83.3,155.2h.01M90.3,164.0h.01M86.5,158.4h.01M86.5,162.7h.01M84.7,161.5h.01M86.9,154.4h.01M84.4,152.5h.01M83.7,166.7h.01M80.6,158.0h.01M84.8,155.4h.01M86.5,168.5h.01M86.5,158.9h.01M84.8,159.0h.01M88.5,157.0h.01M83.5,150.5h.01M83.6,149.6h.01M88.9,162.7h.01M85.7,170.9h.01M84.7,165.6h.01M88.2,148.4h.01M82.6,153.0h.01M88.5,169.7h.01M83.4,167.9h.01M85.4,157.0h.01M85.0,157.6h.01M81.9,152.5h.01M83.3,163.7h.01M91.3,175.7h.01M82.2,156.9h.01M84.0,174.9h.01M87.7,154.5h.01M88.5,164.0h.01M82.4,156.0h.01M85.7,160.1h.01M86.6,157.5h.01M86.8,155.6h.01M84.1,171.4h.01M87.2,163.3h.01M82.5,158.8h.01M88.3,150.3h.01M88.9,157.1h.01M87.3,159.0h.01M86.8,169.0h.01M85.3,171.7h.01M84.4,153.0h.01M88.0,152.0h.01M85.4,166.8h.01M89.2,146.7h.01M87.5,174.1h.01M89.2,158.2h.01M84.9,157.8h.01M83.5,158.0h.01M85.9,158.9h.01M89.1,158.3h.01M82.8,167.9h.01M83.7,156.6h.01M86.0,157.4h.01M83.9,158.1h.01M91.5,155.4h.01M86.0,168.4h.01M88.1,165.7h.01M88.4,145.2h.01M84.2,161.0h.01M87.5,169.7h.01M87.4,158.2h.01M86.4,158.4h.01M86.9,165.1h.01M85.5,153.9h.01M84.2,168.2h.01M89.4,167.4h.01M88.4,166.2h.01M86.3,165.0h.01M83.8,158.5h.01M84.5,165.5h.01M84.9,159.2h.01M87.3,170.2h.01M84.4,153.0h.01M88.3,151.7h.01M87.4,155.7h.01M86.0,146.3h.01M88.0,156.2h.01M84.1,175.6h.01M88.0,175.6h.01M85.5,160.8h.01M90.2,159.8h.01M87.4,163.9h.01M84.1,161.0h.01M85.1,150.7h.01M88.4,165.0h.01M86.5,153.2h.01M81.5,163.6h.01M86.1,147.4h.01M86.2,148.6h.01M86.2,161.1h.01M87.2,161.6h.01M86.7,151.5h.01M85.4,156.2h.01M85.7,162.0h.01M87.8,172.3h.01M80.1,163.0h.01M85.8,174.5h.01M82.3,163.0h.01M85.1,167.5h.01M83.8,159.2h.01M86.0,159.3h.01M84.9,146.2h.01M87.4,167.5h.01M86.1,152.4h.01M86.8,164.2h.01M85.9,159.9h.01M89.7,151.6h.01M85.0,145.7h.01M84.6,154.5h.01M84.0,154.8h.01M90.6,158.5h.01M86.0,176.3h.01M82.1,163.0h.01M84.1,172.3h.01M83.3,155.6h.01M82.4,160.7h.01M83.9,159.5h.01M85.4,155.4h.01M88.6,167.0h.01M86.4,153.2h.01M83.7,162.0h.01M92.0,156.6h.01M84.4,154.8h.01M83.7,152.7h.01M85.8,170.8h.01M86.3,156.2h.01M82.4,161.6h.01M86.2,150.8h.01M83.7,159.7h.01M88.7,164.7h.01M86.8,157.6h.01M87.1,159.9h.01M91.5,151.5h.01M85.4,169.5h.01M85.7,170.7h.01M86.2,161.1h.01M85.4,149.6h.01M84.0,175.1h.01M87.8,167.2h.01M87.7,167.7h.01M85.7,158.3h.01M88.7,157.4h.01M83.1,158.3h.01M85.0,164.6h.01M84.6,152.0h.01M85.5,171.6h.01M86.2,161.2h.01M86.3,162.2h.01M88.5,170.5h.01M82.4,170.2h.01M86.3,157.6h.01M92.1,158.7h.01M91.0,167.3h.01M83.8,163.7h.01M88.1,159.1h.01M80.7,157.4h.01M85.8,151.7h.01M90.7,158.2h.01M85.4,157.8h.01M84.4,154.2h.01M86.5,162.3h.01M85.1,159.3h.01M83.0,163.9h.01M84.5,161.6h.01M84.1,156.1h.01M86.8,150.9h.01M92.2,159.7h.01M86.1,154.5h.01M90.1,170.4h.01M87.0,149.7h.01M85.1,164.6h.01M85.1,151.1h.01M83.4,154.2h.01M86.3,155.1h.01M86.3,172.9h.01M83.8,162.6h.01M86.5,159.0h.01M88.8,157.5h.01M85.5,157.2h.01M86.1,169.6h.01M88.2,149.9h.01M85.2,154.0h.01M88.3,161.7h.01M88.4,159.5h.01M81.7,163.4h.01M86.8,163.8h.01M83.2,160.6h.01M84.6,154.8h.01M87.1,162.6h.01M84.2,147.2h.01M80.4,155.7h.01M89.0,159.6h.01M80.9,153.5h.01M87.3,172.5h.01M89.1,162.8h.01M86.8,152.1h.01M85.2,157.5h.01M84.4,160.5h.01M85.4,162.5h.01M89.7,165.6h.01M87.3,158.2h.01M82.7,159.1h.01M87.6,152.4h.01M89.3,157.5h.01M87.2,157.5h.01M83.3,175.5h.01M83.5,166.9h.01M85.0,162.1h.01M84.4,156.9h.01M88.5,174.6h.01M84.3,160.1h.01M88.6,155.3h.01M88.0,154.1h.01M87.7,163.3h.01M89.2,162.7h.01M83.4,165.0h.01M83.7,165.6h.01M89.9,164.5h.01M85.0,168.9h.01M86.7,150.7h.01M85.4,170.6h.01M85.6,160.9h.01M85.5,147.4h.01M85.1,162.7h.01M86.8,158.7h.01M81.2,169.2h.01M88.0,167.7h.01M89.4,156.7h.01M84.8,162.4h.01M90.3,147.4h.01M85.7,154.6h.01M87.6,171.0h.01M85.6,150.7h.01M86.4,157.9h.01M82.6,166.6h.01M85.0,165.1h.01M83.1,168.2h.01M82.8,167.9h.01M82.0,170.3h.01M85.4,148.3h.01M85.7,162.5h.01M83.9,156.3h.01M86.9,158.7h.01M78.9,156.8h.01M87.3,162.2h.01M88.7,154.8h.01M92.4,166.0h.01M87.0,168.1h.01M88.6,160.8h.01M84.8,167.7h.01M87.3,145.8h.01M83.6,163.5h.01M86.6,162.1h.01M87.8,161.1h.01M90.1,155.6h.01M85.3,162.4h.01M88.1,165.9h.01M89.9,156.4h.01M89.1,163.5h.01M83.8,159.0h.01M91.3,165.9h.01M85.2,142.0h.01M84.5,154.7h.01M86.5,174.9h.01M87.1,153.0h.01M83.5,158.4h.01M85.2,175.6h.01M84.8,168.5h.01M86.5,150.7h.01M89.4,157.7h.01M83.1,162.4h.01M87.5,157.5h.01M88.0,166.2h.01M84.2,144.6h.01M80.6,159.0h.01M89.3,167.5h.01M89.6,173.9h.01M86.3,167.9h.01M82.6,165.2h.01M87.2,159.3h.01M85.2,151.6h.01M86.6,169.6h.01M85.4,164.0h.01M84.7,161.9h.01M83.9,162.8h.01M85.8,162.4h.01M84.8,151.2h.01M85.5,167.8h.01M90.1,157.6h.01M88.2,165.7h.01M87.2,148.4h.01M87.1,152.7h.01M89.1,165.9h.01M87.8,141.0h.01M87.8,165.2h.01M83.2,167.3h.01M86.5,158.6h.01M84.6,152.4h.01M85.3,176.0h.01M86.8,155.1h.01M84.8,155.9h.01M84.2,166.6h.01M85.7,166.5h.01M83.5,167.0h.01M86.2,165.0h.01M86.1,153.3h.01M89.2,156.7h.01M85.9,153.4h.01M86.8,157.1h.01M87.0,162.6h.01M84.6,149.4h.01M87.3,166.9h.01M88.0,151.4h.01M87.8,162.9h.01M87.0,163.2h.01M85.5,161.6h.01M88.5,156.2h.01M82.8,159.2h.01M86.8,146.2h.01M84.7,164.4h.01M85.9,160.7h.01M83.3,166.8h.01M90.5,158.5h.01M84.5,151.3h.01M88.4,160.8h.01M84.4,169.1h.01M88.1,164.5h.01M82.1,159.2h.01M87.8,150.8h.01M88.5,170.7h.01M88.8,154.6h.01M84.6,167.1h.01M88.7,169.2h.01M89.2,159.3h.01M85.3,146.1h.01M88.2,175.5h.01M85.2,164.9h.01M87.2,149.7h.01M84.6,151.8h.01M91.2,154.6h.01M88.3,174.4h.01M90.8,170.7h.01M90.2,150.7h.01M85.5,154.5h.01M85.6,173.0h.01M87.6,150.7h.01M89.5,169.7h.01M85.1,175.5h.01M86.5,169.8h.01M87.0,155.8h.01M85.4,159.1h.01M87.8,160.9h.01M92.0,158.6h.01M85.2,154.6h.01M84.4,149.2h.01M83.9,166.8h.01M86.4,158.7h.01M87.1,168.0h.01M87.8,165.8h.01M85.0,158.0h.01M84.4,159.3h.01M84.3,157.2h.01M85.9,158.4h.01M85.7,156.3h.01M89.4,157.4h.01M83.9,161.5h.01M83.7,152.0h.01M86.5,147.5h.01M78.6,162.2h.01M88.8,147.5h.01M84.1,164.3h.01M81.5,153.4h.01M83.4,158.5h.01M81.6,166.7h.01M86.0,162.3h.01M85.5,144.1h.01M85.9,149.9h.01M86.3,153.6h.01M85.5,158.4h.01M88.2,165.8h.01M83.9,159.9h.01M89.8,163.7h.01M84.5,159.1h.01M85.5,167.1h.01M86.4,162.8h.01M91.6,149.7h.01M83.9,147.0h.01M82.5,166.4h.01M87.0,172.2h.01M81.6,153.4h.01M89.8,167.7h.01M88.4,166.5h.01M86.4,159.9h.01M86.4,166.3h.01M85.9,162.4h.01M89.8,151.6h.01M84.5,164.2h.01M85.7,158.8h.01M91.3,163.1h.01M85.3,168.2h.01M92.3,151.7h.01M84.7,160.9h.01M84.8,176.3h.01M87.6,157.0h.01M87.5,154.0h.01M84.8,160.8h.01M92.0,143.1h.01M87.3,170.1h.01M88.1,174.4h.01M87.4,161.1h.01M86.0,153.6h.01M90.2,151.1h.01M86.0,156.1h.01M84.4,143.3h.01M85.4,161.0h.01M86.6,166.3h.01M85.9,155.2h.01M87.0,165.0h.01M84.1,148.6h.01M83.8,167.9h.01M88.7,153.4h.01M86.6,166.3h.01M89.5,155.1h.01M85.7,170.6h.01M92.1,171.5h.01M83.6,163.4h.01M85.6,159.6h.01M84.7,156.4h.01M86.3,173.5h.01M88.0,163.2h.01M86.4,154.4h.01M85.7,169.3h.01M88.3,174.7h.01M86.9,159.8h.01M82.4,163.0h.01M82.2,171.4h.01M84.8,160.0h.01M83.1,156.3h.01M84.1,168.5h.01M86.9,151.1h.01M81.7,159.5h.01M85.1,151.7h.01M87.7,158.6h.01M86.6,155.6h.01M84.9,156.5h.01M82.5,164.7h.01M87.3,147.1h.01M86.5,168.7h.01M86.9,169.7h.01M85.7,160.0h.01M83.2,153.2h.01M81.9,153.3h.01M86.9,163.9h.01M89.1,161.0h.01M83.9,163.2h.01M86.0,173.4h.01M91.0,167.2h.01M83.6,156.1h.01M86.8,154.7h.01M87.6,165.1h.01M88.3,161.7h.01M84.2,153.7h.01M86.0,170.0h.01M90.1,167.3h.01M87.2,165.1h.01M88.3,169.7h.01M88.4,148.5h.01M88.6,162.9h.01M85.2,163.9h.01M87.0,159.6h.01M82.2,160.8h.01M87.6,159.6h.01M82.5,163.4h.01M88.0,161.4h.01M87.3,157.4h.01M84.7,163.9h.01M85.4,161.4h.01M94.1,165.3h.01M86.6,147.8h.01M86.5,165.7h.01M84.6,158.2h.01M80.9,164.2h.01M84.9,165.1h.01M89.6,158.8h.01M88.7,161.9h.01M85.8,157.9h.01M84.3,169.6h.01M88.4,152.5h.01M88.3,154.5h.01M82.7,169.0h.01M83.2,168.9h.01M86.8,166.8h.01M87.5,168.7h.01M87.1,164.3h.01M86.9,168.2h.01M85.4,167.6h.01M89.9,159.5h.01M87.4,156.1h.01M85.6,162.0h.01M85.5,153.4h.01M86.2,161.4h.01M87.1,165.3h.01M82.0,170.6h.01M85.9,154.2h.01M85.4,163.3h.01M88.4,157.3h.01M86.7,148.0h.01M86.7,159.2h.01M85.3,166.6h.01M90.6,167.7h.01M84.4,171.5h.01M85.5,159.7h.01M84.9,163.4h.01M87.6,161.1h.01M85.8,158.9h.01M85.3,167.3h.01M85.1,158.9h.01M85.8,154.4h.01M85.8,149.0h.01M87.3,164.1h.01M85.6,171.6h.01M84.3,164.2h.01M87.4,156.0h.01M85.7,166.7h.01M86.4,162.1h.01M89.6,161.6h.01M82.3,154.5h.01M88.3,159.0h.01M83.7,145.2h.01M87.1,171.2h.01M83.3,143.8h.01M87.5,156.0h.01M85.6,157.6h.01M84.1,163.3h.01M88.5,162.7h.01M85.0,167.8h.01M86.0,164.3h.01M84.1,164.9h.01M88.1,169.6h.01M86.4,163.3h.01M84.9,166.6h.01M88.2,168.1h.01M85.4,150.9h.01M86.1,158.5h.01M84.5,164.5h.01M88.6,162.9h.01M88.9,163.0h.01M84.0,155.7h.01M85.5,165.1h.01M88.5,161.0h.01M88.7,153.9h.01M86.0,171.1h.01M87.4,167.8h.01M81.8,147.6h.01M84.3,167.5h.01M90.2,155.4h.01M84.0,152.5h.01M84.2,164.1h.01M85.6,173.9h.01M88.0,155.0h.01M86.9,158.9h.01M88.2,166.7h.01M85.5,166.6h.01M87.7,159.4h.01M86.9,165.1h.01M85.6,155.0h.01M89.3,160.1h.01M84.9,163.4h.01M82.8,160.4h.01M83.1,156.9h.01M82.1,154.7h.01M88.4,158.7h.01M83.4,172.8h.01M84.8,171.0h.01M85.1,149.2h.01M90.7,156.9h.01M88.1,168.8h.01M83.2,160.6h.01M85.0,164.5h.01M86.3,150.7h.01M86.4,165.7h.01M85.6,164.2h.01M85.1,159.7h.01M87.1,161.1h.01M89.3,167.0h.01M88.3,165.3h.01M86.7,151.5h.01M88.8,172.8h.01M86.8,158.2h.01M86.2,168.9h.01M87.0,152.8h.01M85.9,154.4h.01M85.8,153.5h.01M84.3,170.9h.01M88.8,148.2h.01M84.0,156.8h.01M85.4,149.9h.01M88.4,148.2h.01M87.9,165.2h.01M85.5,155.2h.01M86.5,161.1h.01M81.4,150.9h.01M87.6,159.3h.01M85.3,152.8h.01M84.7,154.5h.01M92.9,150.9h.01M89.9,163.6h.01M86.8,161.5h.01M85.4,171.8h.01M87.5,159.8h.01M86.0,161.5h.01M83.6,157.7h.01M84.9,164.6h.01M87.7,146.4h.01M85.8,167.3h.01M83.3,151.4h.01M88.7,159.1h.01M85.3,151.2h.01M86.7,156.0h.01M86.8,163.2h.01M88.0,157.7h.01M85.1,160.3h.01M86.1,161.3h.01M85.1,158.3h.01M84.9,155.7h.01M86.7,168.5h.01M85.1,164.3h.01M87.1,160.9h.01M87.9,156.0h.01M87.6,162.3h.01M78.1,162.7h.01M87.7,174.4h.01M83.8,160.8h.01M87.1,152.9h.01M89.1,163.4h.01M84.4,151.3h.01M85.3,172.2h.01M80.5,146.7h.01M87.9,159.3h.01M84.8,164.5h.01M86.5,162.2h.01M86.9,152.1h.01M89.4,156.7h.01M89.0,165.1h.01M86.4,161.1h.01M86.2,146.5h.01M85.6,163.2h.01M82.5,149.1h.01M88.9,166.0h.01M82.7,163.4h.01M86.2,167.2h.01M85.6,158.4h.01M84.5,161.4h.01M86.0,155.2h.01M85.5,154.5h.01M87.8,152.4h.01M82.6,152.9h.01M88.9,156.3h.01M87.8,165.5h.01M85.1,165.6h.01M87.5,159.7h.01M84.6,159.6h.01M83.3,158.0h.01M84.9,163.3h.01M87.1,155.3h.01M88.4,168.8h.01M86.5,154.6h.01M87.5,142.0h.01M84.9,164.3h.01M91.0,154.6h.01M89.9,172.7h.01M80.7,168.2h.01M86.8,167.5h.01M85.9,155.5h.01M85.8,171.2h.01M88.3,157.9h.01M87.2,166.4h.01M87.7,159.7h.01M84.8,154.5h.01M85.3,155.9h.01M82.6,149.5h.01M88.4,151.7h.01M83.2,159.7h.01M89.7,169.4h.01M85.3,152.3h.01M85.0,153.3h.01M85.0,163.6h.01M83.8,154.2h.01M85.7,159.8h.01M84.5,154.1h.01M83.6,154.4h.01M87.6,158.2h.01M78.9,164.6h.01M86.1,153.5h.01M85.7,137.5h.01M82.4,168.7h.01M91.4,176.3h.01M84.5,160.3h.01M88.2,150.8h.01M90.5,154.6h.01M87.1,151.4h.01M87.2,159.9h.01M88.9,151.4h.01M86.3,173.6h.01M83.4,162.6h.01M87.4,156.3h.01M85.7,170.6h.01M89.0,164.3h.01M86.9,151.5h.01M86.5,173.4h.01M88.8,149.8h.01M81.3,155.0h.01M86.7,155.9h.01M85.6,162.6h.01M88.5,161.6h.01M89.3,149.3h.01M87.4,163.2h.01M82.7,169.4h.01M82.5,149.2h.01M92.7,169.7h.01M87.2,170.2h.01M89.1,151.5h.01M87.5,170.5h.01M85.9,160.6h.01M85.2,165.5h.01M85.0,155.6h.01M83.4,153.0h.01M86.8,163.6h.01M85.4,152.1h.01M87.1,162.7h.01M89.4,156.3h.01M85.3,163.9h.01M90.0,159.6h.01M86.1,152.9h.01M85.4,167.1h.01M88.4,168.4h.01M82.3,166.3h.01M84.1,164.5h.01M80.6,159.3h.01M84.2,169.6h.01M86.6,169.8h.01M85.2,174.9h.01M85.2,174.3h.01M85.1,152.6h.01M88.5,157.0h.01M86.2,149.8h.01M85.5,160.9h.01M84.6,163.0h.01M80.7,166.8h.01M85.3,171.1h.01M85.5,155.0h.01M85.2,162.1h.01M87.7,156.5h.01M84.4,163.3h.01M88.3,146.8h.01M83.8,154.9h.01M90.4,169.3h.01M88.2,163.8h.01M83.6,168.5h.01M85.2,154.0h.01M91.0,149.0h.01M89.7,161.5h.01M84.1,161.4h.01M84.3,161.4h.01M84.7,151.0h.01M92.8,156.2h.01M88.7,159.7h.01M87.9,150.4h.01M83.8,135.1h.01M88.7,163.4h.01M83.4,166.4h.01M87.7,175.9h.01M88.5,164.7h.01M88.2,159.8h.01M85.3,165.4h.01M89.3,151.2h.01M83.5,159.7h.01M90.7,158.4h.01M82.2,166.2h.01M88.1,174.8h.01M86.8,175.0h.01M84.6,166.9h.01M86.6,151.0h.01M85.6,170.1h.01M89.0,157.2h.01M89.0,166.9h.01M88.5,162.2h.01M87.1,153.8h.01M86.1,161.0h.01M84.5,157.9h.01M86.7,161.7h.01M88.9,152.2h.01M85.3,162.1h.01M85.4,162.6h.01M85.2,169.0h.01M85.8,151.4h.01M88.1,172.7h.01M81.6,159.1h.01M86.5,167.9h.01M89.9,158.8h.01M82.5,165.1h.01M88.8,163.6h.01M86.5,153.9h.01M92.2,150.9h.01M82.7,167.5h.01M87.0,165.1h.01M87.2,172.8h.01M89.8,155.9h.01M88.7,151.1h.01M82.2,169.2h.01M85.3,143.8h.01M86.3,155.0h.01M87.5,159.6h.01M84.4,154.6h.01M88.2,153.0h.01M86.6,152.6h.01M87.4,173.6h.01M87.7,168.5h.01M87.4,152.8h.01M85.6,160.6h.01M87.4,155.5h.01M87.8,154.6h.01M86.5,160.0h.01M83.5,167.7h.01M86.4,160.9h.01M86.2,144.1h.01M82.9,153.3h.01M88.7,155.7h.01M87.8,152.3h.01M84.3,156.5h.01M88.9,147.5h.01M85.9,163.1h.01M86.6,159.9h.01M88.2,162.2h.01M83.9,164.9h.01M84.4,157.5h.01M89.8,173.5h.01M87.3,154.2h.01M84.5,172.7h.01M87.1,149.6h.01M90.1,164.4h.01M89.5,163.1h.01M81.1,154.5h.01M86.0,158.8h.01M90.0,155.0h.01M86.1,159.6h.01M86.1,152.2h.01M83.4,140.5h.01M87.1,158.5h.01M86.8,152.1h.01M86.3,152.7h.01M83.9,162.6h.01M87.9,164.4h.01M86.2,157.1h.01M89.7,169.5h.01M84.8,151.8h.01M87.2,162.5h.01M84.1,172.2h.01M84.3,161.9h.01M88.7,146.0h.01M85.3,170.9h.01M89.7,158.1h.01M86.4,153.4h.01M87.3,152.1h.01M81.4,148.5h.01M86.4,150.1h.01M89.0,169.7h.01M88.7,165.0h.01M89.1,162.0h.01M88.4,163.6h.01M88.2,152.4h.01M84.7,152.5h.01M88.3,163.9h.01M84.4,152.6h.01M84.9,166.6h.01M86.0,158.2h.01M84.6,159.1h.01M90.2,154.8h.01M85.5,172.9h.01M88.1,151.4h.01M89.0,150.5h.01M87.7,141.0h.01M83.9,167.0h.01M84.9,154.6h.01M86.4,160.1h.01M85.2,154.9h.01M90.7,171.3h.01M87.1,151.4h.01M85.0,157.9h.01M87.5,172.2h.01M85.1,161.2h.01M85.3,161.1h.01M84.7,162.9h.01M89.1,157.1h.01M85.5,160.9h.01M83.1,173.7h.01M83.1,157.3h.01M84.2,171.4h.01M85.1,156.2h.01M90.9,159.1h.01M84.4,160.0h.01M86.8,154.4h.01M85.9,158.5h.01M88.1,165.9h.01M88.3,159.1h.01M88.2,158.5h.01M89.1,163.1h.01M85.3,169.4h.01M82.7,152.7h.01M84.4,159.1h.01M83.3,151.0h.01M81.8,160.9h.01M84.5,174.8h.01M83.6,170.0h.01M86.6,168.2h.01M83.6,168.8h.01M89.0,156.9h.01M84.3,157.2h.01M87.0,172.7h.01M89.9,158.4h.01M85.5,162.8h.01M85.7,156.5h.01M85.8,166.4h.01M86.2,161.9h.01M85.7,158.6h.01M85.5,169.6h.01M86.9,171.3h.01M85.9,168.1h.01M83.0,157.0h.01M86.2,155.3h.01M86.0,153.1h.01M85.9,155.0h.01M86.3,157.8h.01M83.9,157.0h.01M86.4,150.5h.01M86.6,169.5h.01M85.8,164.2h.01M87.8,154.0h.01M89.5,174.4h.01M91.5,154.7h.01M89.8,146.4h.01M89.1,161.1h.01M83.2,153.8h.01M83.8,153.3h.01M87.2,158.7h.01M80.3,157.7h.01M87.4,160.7h.01M90.4,146.2h.01M86.9,160.3h.01M88.1,150.0h.01M83.2,158.8h.01M86.5,146.4h.01M87.2,160.0h.01M88.1,140.4h.01M87.5,153.4h.01M85.2,165.9h.01M90.4,161.2h.01M86.1,169.9h.01M84.2,158.9h.01M85.1,152.6h.01M86.8,175.4h.01M86.9,163.8h.01M86.2,168.6h.01M86.8,153.4h.01M86.6,170.9h.01M86.1,169.1h.01M86.1,175.3h.01M87.0,165.0h.01M85.6,166.4h.01M85.8,148.9h.01M87.0,151.0h.01M89.9,166.0h.01M86.4,165.3h.01M80.1,171.6h.01M84.7,165.1h.01M92.5,147.9h.01M85.3,162.6h.01M87.3,147.3h.01M84.1,171.3h.01M84.9,164.2h.01M83.0,153.2h.01M81.9,162.1h.01M89.1,160.8h.01M85.7,161.9h.01M87.4,157.9h.01M87.7,174.8h.01M91.7,155.7h.01M83.3,174.5h.01M88.7,169.2h.01M87.8,158.4h.01M88.7,168.5h.01M89.2,151.9h.01M88.8,157.4h.01M85.5,162.7h.01M85.5,175.2h.01M87.0,158.6h.01M86.9,158.3h.01M87.7,166.6h.01M88.3,150.6h.01M85.5,160.7h.01M83.4,162.9h.01M86.0,160.5h.01M87.2,155.4h.01M90.1,167.9h.01M85.0,163.6h.01M88.1,154.3h.01M85.5,165.3h.01M80.1,150.1h.01M87.1,164.8h.01M84.1,166.5h.01M91.7,161.7h.01M86.2,160.6h.01M83.9,164.2h.01M86.8,165.7h.01M89.8,160.4h.01M86.8,162.5h.01M90.5,149.1h.01M86.3,155.4h.01M86.6,166.4h.01M86.5,165.6h.01M86.8,154.7h.01M84.7,149.7h.01M86.9,157.1h.01M88.4,167.4h.01M84.2,151.9h.01M87.8,153.5h.01M86.8,164.7h.01M85.4,173.5h.01M84.5,163.3h.01M85.3,138.4h.01M85.9,158.9h.01M87.7,159.1h.01M84.6,156.2h.01M85.6,165.8h.01M85.7,169.4h.01M88.4,154.5h.01M88.8,143.0h.01M86.4,152.7h.01M86.1,168.8h.01M86.3,158.8h.01M89.4,154.4h.01M84.3,167.4h.01M87.8,149.3h.01M86.7,166.0h.01M85.9,157.0h.01M86.7,161.7h.01M84.6,166.4h.01M82.5,159.5h.01M91.5,152.1h.01M86.2,143.0h.01M84.3,151.4h.01M86.5,156.4h.01M90.8,153.1h.01M86.3,161.7h.01M87.9,166.8h.01M82.6,175.8h.01M84.6,147.7h.01M85.3,146.7h.01M86.8,155.6h.01M87.1,154.1h.01M86.5,174.0h.01M86.7,152.7h.01M89.8,147.3h.01M82.9,169.8h.01M84.9,170.2h.01M87.7,172.8h.01M87.7,155.3h.01M87.7,170.6h.01M86.7,138.3h.01M85.4,157.3h.01M86.2,157.4h.01M89.1,150.5h.01M87.4,145.1h.01M81.1,152.4h.01M84.5,153.3h.01M84.6,164.6h.01M87.7,160.6h.01M86.8,154.8h.01M83.9,149.3h.01M85.3,151.5h.01M85.5,165.5h.01M87.6,170.0h.01M84.1,143.5h.01M83.6,175.0h.01M88.0,156.7h.01M89.5,156.9h.01M90.3,157.0h.01M85.3,165.3h.01M83.6,158.8h.01M91.0,163.3h.01M83.7,158.1h.01M86.2,154.3h.01M87.3,169.4h.01M86.4,166.7h.01M87.0,161.0h.01M84.5,167.2h.01M89.6,156.6h.01M84.2,163.9h.01M86.5,168.5h.01M87.5,159.0h.01M83.0,164.7h.01M86.5,150.5h.01M82.7,146.3h.01M87.8,156.7h.01M78.3,153.4h.01M84.8,159.2h.01M86.4,157.4h.01M88.1,167.7h.01M85.8,171.8h.01M86.0,153.5h.01M86.7,149.2h.01M85.6,152.0h.01M85.3,161.5h.01M80.4,162.9h.01M86.9,158.4h.01M88.0,162.6h.01M85.4,152.4h.01M88.1,165.7h.01M82.7,154.5h.01M83.4,166.2h.01M84.9,150.6h.01M89.9,163.4h.01M86.9,161.8h.01M85.9,160.2h.01M88.4,163.3h.01M85.2,160.7h.01M90.8,155.8h.01M83.1,160.8h.01M83.5,175.2h.01M87.7,162.7h.01M91.0,152.3h.01M86.2,147.4h.01M89.3,159.4h.01M90.5,157.9h.01M83.8,154.7h.01M88.2,153.8h.01M86.9,154.5h.01M84.6,155.7h.01M90.2,151.8h.01M87.1,166.0h.01M84.5,148.6h.01M89.9,173.0h.01M85.7,150.9h.01M88.4,159.6h.01M84.3,157.0h.01M80.5,153.8h.01M83.3,150.0h.01M87.7,161.9h.01M90.4,139.7h.01M84.7,153.6h.01M89.5,167.7h.01M86.6,160.6h.01M84.4,156.0h.01M85.2,140.8h.01M90.9,165.5h.01M91.3,169.2h.01M87.5,166.2h.01M82.2,152.2h.01M88.3,157.0h.01M82.3,159.8h.01M83.1,159.9h.01M90.1,151.3h.01M85.2,164.0h.01M86.2,161.3h.01M84.2,157.3h.01M80.5,158.5h.01M89.4,151.4h.01M85.8,165.2h.01M89.2,168.7h.01M84.1,156.7h.01M90.5,156.3h.01M86.9,153.4h.01M84.7,137.3h.01M84.9,143.2h.01M83.8,152.4h.01M89.5,165.6h.01M87.2,155.9h.01M82.9,163.5h.01M84.2,159.0h.01M88.5,158.4h.01M86.2,152.3h.01M88.8,163.9h.01M88.0,172.2h.01M82.3,160.0h.01M87.8,162.3h.01M87.0,163.4h.01M82.5,159.2h.01M89.1,159.4h.01M85.8,166.2h.01M82.0,162.8h.01M89.9,157.9h.01M84.2,163.8h.01M85.1,153.6h.01M86.6,147.2h.01M87.9,150.7h.01M84.9,165.3h.01M86.2,161.8h.01M89.6,171.4h.01M91.3,155.6h.01M88.5,147.2h.01M88.2,169.7h.01M84.5,163.3h.01M88.3,158.6h.01M84.7,171.3h.01M83.0,161.1h.01M88.6,161.6h.01M90.1,171.1h.01M87.4,173.3h.01M88.1,150.4h.01M85.4,161.9h.01M86.7,146.9h.01M91.8,147.9h.01M83.5,163.2h.01M86.7,171.5h.01M86.8,162.7h.01M88.0,154.2h.01M83.1,156.3h.01M88.7,157.7h.01M89.3,155.6h.01M88.1,160.0h.01M88.3,159.9h.01M86.7,156.3h.01M89.3,159.6h.01M87.5,164.8h.01M84.1,153.5h.01M86.1,169.5h.01M83.7,152.1h.01M83.8,156.9h.01M83.7,153.6h.01M87.5,151.6h.01M86.2,150.9h.01M85.8,163.8h.01M81.4,160.3h.01M86.8,159.4h.01M86.9,163.0h.01M83.1,158.9h.01M87.8,169.7h.01M82.9,155.3h.01M82.9,159.7h.01M83.7,152.4h.01M88.1,172.2h.01M90.3,152.9h.01M87.9,162.5h.01M89.3,158.3h.01M84.2,159.4h.01M88.2,153.1h.01M87.2,159.8h.01M86.7,159.9h.01M87.7,166.0h.01M85.6,157.2h.01M81.0,153.2h.01M82.6,165.0h.01M83.6,154.6h.01M87.5,167.4h.01M89.2,153.4h.01M86.8,168.0h.01M84.2,158.2h.01M83.3,155.0h.01M88.0,160.6h.01M85.4,155.7h.01M89.9,165.6h.01M83.3,176.3h.01M85.3,158.7h.01M85.1,155.6h.01M87.8,148.9h.01M86.3,157.4h.01M90.5,162.9h.01M87.3,163.9h.01M87.7,160.8h.01M80.3,163.1h.01M85.5,165.2h.01M87.0,155.8h.01M84.1,152.2h.01M87.0,159.1h.01M84.1,157.2h.01M87.1,154.9h.01M86.0,155.3h.01M80.0,160.6h.01M86.4,166.1h.01M89.4,154.4h.01M87.7,161.9h.01M86.5,166.2h.01M88.4,150.4h.01M89.8,158.6h.01M84.7,154.7h.01M85.7,151.4h.01M88.9,163.2h.01M84.1,166.1h.01M86.8,160.5h.01M88.6,159.2h.01M85.6,163.7h.01M81.8,150.9h.01M87.5,168.0h.01M82.2,160.0h.01M84.7,157.8h.01M87.7,171.2h.01M90.5,167.1h.01M87.8,161.0h.01M81.8,162.9h.01M83.4,151.5h.01M86.6,148.0h.01M90.5,164.5h.01M87.2,163.6h.01M86.9,160.4h.01M88.0,154.9h.01M86.9,161.2h.01M88.2,151.6h.01M86.9,159.0h.01M87.8,164.0h.01M86.7,163.4h.01M87.3,170.2h.01M87.0,164.0h.01M84.0,158.4h.01M88.1,167.8h.01M83.9,159.6h.01M85.6,160.3h.01M85.1,156.7h.01M86.1,160.9h.01M88.7,153.5h.01M84.0,165.9h.01M87.5,158.5h.01M83.5,167.9h.01M83.7,168.5h.01M86.9,158.8h.01M85.9,166.1h.01M86.3,146.9h.01M84.6,143.8h.01M87.2,166.9h.01M88.8,149.8h.01M91.4,173.6h.01M86.0,145.0h.01M84.2,167.8h.01M91.3,155.9h.01M81.8,152.7h.01M90.9,159.9h.01M82.9,144.2h.01M87.8,166.0h.01M85.1,158.4h.01M86.5,157.4h.01M85.0,155.6h.01M84.9,169.2h.01M87.2,167.6h.01M90.7,142.7h.01M86.1,167.1h.01M85.8,155.4h.01M87.2,155.9h.01M84.3,157.6h.01M86.4,160.0h.01M88.4,160.1h.01M85.1,175.9h.01M85.6,158.8h.01M84.6,148.1h.01M86.7,170.9h.01M81.9,154.2h.01M87.3,154.8h.01M87.5,159.6h.01M83.6,158.3h.01M85.0,164.0h.01M80.2,163.0h.01M89.5,161.1h.01M86.8,155.9h.01M87.1,158.8h.01M83.2,151.0h.01M80.7,163.2h.01M86.7,168.1h.01M86.9,165.1h.01M83.0,145.9h.01M84.9,157.5h.01M87.1,158.9h.01M85.9,160.2h.01M86.9,161.4h.01M87.0,156.1h.01M86.1,148.9h.01M83.6,157.9h.01M87.7,139.6h.01M81.6,158.4h.01M83.5,128.9h.01M83.1,134.8h.01M78.3,143.6h.01M91.8,139.7h.01M83.6,160.5h.01M86.6,146.7h.01M90.8,134.9h.01M86.1,153.4h.01M86.9,135.0h.01M83.2,167.5h.01M86.0,145.0h.01M89.8,128.2h.01M86.1,128.5h.01M90.9,137.0h.01M86.6,137.7h.01M86.7,151.4h.01M86.3,144.4h.01M87.1,145.2h.01M84.6,154.8h.01M89.1,133.0h.01M82.9,139.4h.01M87.2,132.5h.01M91.4,148.4h.01M86.8,157.5h.01M83.8,152.0h.01M87.6,162.1h.01M82.8,163.2h.01M88.2,150.7h.01M89.8,145.2h.01M85.6,157.1h.01M85.1,159.8h.01M90.8,150.3h.01M86.9,140.8h.01M83.3,163.8h.01M82.9,148.9h.01M87.3,138.1h.01M84.0,140.3h.01M93.3,152.1h.01M90.9,170.3h.01M89.6,162.5h.01M84.9,140.4h.01M91.1,164.1h.01M83.0,160.6h.01M87.3,156.8h.01M89.5,168.9h.01M84.3,148.1h.01M90.5,145.3h.01M88.1,147.3h.01M80.7,142.0h.01M89.2,142.1h.01M81.3,142.6h.01M86.7,153.5h.01M87.4,153.9h.01M82.9,141.6h.01M83.8,143.3h.01M87.8,162.8h.01M85.6,159.8h.01M90.0,135.6h.01M83.7,149.9h.01M81.8,168.8h.01M80.2,134.8h.01M88.9,140.0h.01M88.7,137.4h.01M89.9,141.8h.01M88.8,159.3h.01M81.4,138.5h.01M80.6,136.1h.01M89.4,147.9h.01M89.2,163.9h.01M89.8,156.2h.01M85.0,144.0h.01M87.4,157.8h.01M90.0,151.6h.01M85.4,147.5h.01M91.9,151.4h.01M93.0,140.5h.01M89.3,150.7h.01M88.9,140.1h.01M87.5,147.6h.01M85.5,135.3h.01M81.7,144.7h.01M88.2,151.2h.01M87.2,151.9h.01M82.0,160.0h.01M86.6,140.1h.01M84.6,159.2h.01M87.0,130.2h.01M93.3,132.2h.01M92.1,157.7h.01M83.1,162.0h.01M90.6,159.8h.01M88.6,152.0h.01M87.1,142.6h.01M87.3,162.4h.01M86.1,170.0h.01M81.3,148.8h.01M81.6,129.2h.01M87.3,144.9h.01M84.6,136.8h.01M85.7,130.7h.01M85.8,142.7h.01M82.3,153.0h.01M80.3,153.2h.01M87.3,154.2h.01M86.9,157.2h.01M85.6,136.6h.01M87.7,139.8h.01M85.2,149.8h.01M83.4,159.2h.01M81.4,161.9h.01M86.3,167.0h.01M90.1,155.9h.01M87.4,149.7h.01M81.9,142.3h.01M83.3,140.6h.01M86.0,139.8h.01M86.9,145.6h.01M84.9,152.7h.01M88.0,133.8h.01M86.5,153.5h.01M83.5,159.1h.01M91.5,154.8h.01M86.0,148.8h.01M80.2,154.9h.01M85.4,152.8h.01M87.7,150.8h.01M93.3,158.5h.01M84.3,155.1h.01M88.5,148.9h.01M91.1,144.4h.01M80.7,136.8h.01M87.7,137.6h.01M86.9,131.9h.01M87.7,145.6h.01M83.5,142.4h.01M85.5,158.4h.01M87.2,146.2h.01M87.0,158.2h.01M88.0,167.6h.01M84.1,157.4h.01M86.8,141.6h.01M88.4,157.6h.01M89.6,153.7h.01M83.6,150.3h.01M87.7,166.6h.01M86.8,150.1h.01M91.6,149.2h.01M85.0,151.6h.01M89.0,150.1h.01M80.9,144.1h.01M89.7,140.4h.01M89.2,150.3h.01M83.8,157.2h.01M79.4,125.6h.01M81.4,154.2h.01M85.5,155.3h.01M86.2,149.9h.01M84.7,144.1h.01M89.7,156.8h.01M82.1,154.7h.01M93.1,156.7h.01M83.4,156.6h.01M87.1,145.0h.01M89.6,161.8h.01M84.7,149.8h.01M85.2,148.5h.01M91.6,143.7h.01M88.3,151.3h.01M86.7,136.2h.01M88.5,136.5h.01M88.8,147.5h.01M86.9,143.4h.01M83.6,137.3h.01M86.5,147.6h.01M87.4,145.3h.01M89.0,150.0h.01M86.8,145.8h.01M86.4,155.5h.01M84.1,135.4h.01M87.7,153.0h.01M86.5,151.1h.01M82.2,137.9h.01M86.4,148.1h.01M82.4,153.5h.01M80.2,161.9h.01M83.0,142.4h.01M83.0,133.8h.01M85.4,127.9h.01M85.3,150.3h.01M85.5,148.2h.01M81.7,128.4h.01M82.1,159.9h.01M87.4,129.0h.01M92.0,155.2h.01M89.9,159.4h.01M90.7,130.1h.01M86.7,140.0h.01M92.7,155.8h.01M86.4,145.6h.01M79.6,149.5h.01M83.7,163.1h.01M88.8,147.5h.01M85.1,160.4h.01M84.7,160.3h.01M87.1,145.3h.01M87.6,167.3h.01M81.2,156.5h.01M88.8,145.6h.01M91.2,155.6h.01M88.2,137.5h.01M88.3,134.4h.01M88.1,171.7h.01M83.5,165.3h.01M82.9,149.1h.01M88.7,132.7h.01M87.5,140.0h.01M84.4,157.5h.01M86.2,152.8h.01M86.5,152.5h.01M91.5,149.7h.01M85.5,148.7h.01M88.8,153.3h.01M79.4,147.6h.01M87.8,176.7h.01M84.5,145.4h.01M82.6,147.6h.01M80.7,139.3h.01M86.1,132.0h.01M85.5,140.9h.01M90.5,165.7h.01M93.3,149.9h.01M88.6,174.1h.01M84.3,166.8h.01M83.4,159.8h.01M81.3,144.1h.01M85.8,145.6h.01M80.1,149.7h.01M85.5,164.5h.01M88.3,124.8h.01M86.8,160.0h.01M86.1,140.7h.01M81.9,144.4h.01M83.3,145.4h.01M85.3,162.3h.01M83.2,152.0h.01M82.8,151.4h.01M89.8,142.1h.01M82.5,148.7h.01M86.5,141.4h.01M87.8,149.1h.01M88.6,133.4h.01M88.9,162.1h.01M83.7,169.9h.01M87.2,134.2h.01M82.9,140.2h.01M84.3,145.7h.01M87.4,146.1h.01M85.4,137.8h.01M79.7,140.6h.01M82.4,157.9h.01M78.5,160.8h.01M77.0,146.2h.01M86.4,136.2h.01M83.2,157.9h.01M82.9,147.3h.01M86.5,155.5h.01M82.3,162.7h.01M85.9,159.4h.01M81.8,160.2h.01M86.1,156.8h.01M84.3,157.7h.01M86.5,127.6h.01M94.6,141.0h.01M87.9,146.2h.01M84.9,144.2h.01M89.4,158.5h.01M89.4,130.5h.01M89.1,131.9h.01M94.0,152.5h.01M90.1,148.3h.01M86.9,140.6h.01M92.9,144.7h.01M90.0,139.4h.01M85.9,144.1h.01M86.0,142.7h.01M88.5,155.5h.01M81.1,143.5h.01M82.1,160.1h.01M82.3,153.5h.01M86.9,147.7h.01M80.0,167.0h.01M85.9,155.8h.01M89.9,137.4h.01M83.1,167.2h.01M92.8,139.3h.01M86.1,158.8h.01M85.9,162.8h.01M88.4,147.5h.01M88.6,143.1h.01M90.6,141.1h.01M90.7,175.9h.01M80.6,167.0h.01M81.5,147.6h.01M92.5,160.3h.01M88.6,152.5h.01M87.0,153.4h.01M85.8,145.2h.01M82.3,167.5h.01M86.3,169.3h.01M88.9,153.4h.01M82.8,145.5h.01M86.6,147.0h.01M85.4,123.3h.01M85.1,145.6h.01M84.8,144.9h.01M81.3,139.0h.01M91.3,138.0h.01M84.7,139.3h.01M85.9,142.7h.01M93.0,136.9h.01M90.9,143.2h.01M87.9,176.3h.01M86.4,148.3h.01M77.0,144.7h.01M85.7,149.8h.01M87.2,136.3h.01M83.3,156.9h.01M85.5,148.8h.01M88.6,149.6h.01M86.9,136.5h.01M86.4,129.7h.01M92.3,140.0h.01M92.0,143.0h.01M86.0,162.8h.01M87.1,150.5h.01M85.5,145.6h.01M84.0,140.0h.01M80.5,146.8h.01M83.9,164.0h.01M93.5,169.5h.01M82.5,144.5h.01M86.0,131.6h.01M91.6,156.4h.01M87.4,169.9h.01M88.1,145.2h.01M87.4,143.4h.01M88.1,134.1h.01M88.2,145.3h.01M85.1,144.3h.01M86.1,129.3h.01M88.5,146.4h.01M92.4,148.4h.01M89.6,148.2h.01M86.0,135.1h.01M84.9,142.1h.01M78.5,145.3h.01M84.1,152.0h.01M89.9,145.3h.01M90.4,162.3h.01M89.0,144.9h.01M86.8,166.7h.01M91.6,161.2h.01M80.8,123.6h.01M92.4,156.5h.01M91.0,155.0h.01M85.5,153.7h.01M86.3,165.2h.01M89.3,138.2h.01M84.0,159.9h.01M89.4,151.8h.01M87.6,134.9h.01M83.7,154.5h.01M80.4,154.1h.01M88.4,155.9h.01M89.3,169.8h.01M87.5,139.7h.01M80.8,123.8h.01M86.8,158.5h.01M81.0,150.6h.01M84.1,145.9h.01M87.2,149.1h.01M82.6,157.1h.01M86.1,128.0h.01M89.1,166.1h.01M85.2,166.5h.01M81.3,145.9h.01M90.8,163.2h.01M88.2,160.5h.01M85.1,156.7h.01M89.7,159.2h.01M87.8,158.0h.01M88.0,155.5h.01M81.4,155.4h.01M83.4,144.6h.01M86.7,151.5h.01M82.1,142.8h.01M87.3,144.2h.01M86.6,151.3h.01M87.2,142.7h.01M87.1,155.0h.01M82.3,157.4h.01M83.2,152.8h.01M88.5,155.8h.01M82.6,138.6h.01M82.6,155.0h.01M87.0,128.7h.01M89.0,161.8h.01M84.8,147.8h.01M87.3,137.5h.01M85.1,154.8h.01M85.4,148.6h.01M86.9,167.6h.01M87.4,152.4h.01M84.9,162.3h.01M86.7,148.3h.01M90.9,163.5h.01M83.4,145.2h.01M90.7,143.4h.01M91.7,146.9h.01M92.9,137.9h.01M80.0,132.5h.01M93.1,140.6h.01M85.0,142.3h.01M84.0,150.4h.01M86.9,141.7h.01M84.7,163.4h.01M89.7,159.6h.01M90.6,146.5h.01M89.4,166.8h.01M83.8,163.6h.01M78.3,127.5h.01M81.6,137.6h.01M83.3,143.2h.01M89.2,140.5h.01M85.2,134.2h.01M81.2,146.5h.01M84.0,158.4h.01M86.8,128.5h.01M88.9,135.3h.01M85.1,137.0h.01M83.7,141.9h.01M82.5,140.4h.01M85.5,156.4h.01M88.8,168.2h.01M81.1,144.1h.01M90.5,136.0h.01M85.9,156.5h.01" stroke="#1a1a1a" stroke-width="0.75" stroke-linecap="round" fill="none"/>
<rect x="76.5" y="122" width="19.5" height="55" fill="none" stroke="#222" stroke-width="0.9"/>
<line x1="10.70" y1="175.00" x2="10.70" y2="99.80" stroke="#111" stroke-width="1.05" />
<path d="M7.8999999999999995,99.8 L13.5,99.8 L10.7,93.8 Z" fill="#111"/>
<line x1="24.00" y1="190.30" x2="96.30" y2="190.30" stroke="#111" stroke-width="1.05" />
<path d="M96.3,187.5 L96.3,193.10000000000002 L102.3,190.3 Z" fill="#111"/>
<text transform="translate(6.89,141.50) rotate(-90)" font-size="8.3" font-weight="bold" text-anchor="middle" textLength="67.80" lengthAdjust="spacingAndGlyphs" fill="#111">Anti-CD25-FITC</text>
<text x="22.10" y="202.60" font-size="8.4" font-weight="bold" text-anchor="start" textLength="73.80" lengthAdjust="spacingAndGlyphs" fill="#111" >Anti-CD4-PE-Cy5</text>
<text x="72.50" y="112.00" font-size="6.8" font-weight="bold" text-anchor="start" textLength="30.00" lengthAdjust="spacingAndGlyphs" fill="#111" >Gated on</text>
<text x="80.00" y="120.00" font-size="6.8" font-weight="bold" text-anchor="start" textLength="16.00" lengthAdjust="spacingAndGlyphs" fill="#111" >CD4<tspan dy="-2" font-size="70%">+</tspan></text>
<text x="24.70" y="185.80" font-size="3.0" font-weight="normal" text-anchor="middle" fill="#444" style="stroke:none">10<tspan dy="-1" font-size="70%">0</tspan></text>
<text x="45.50" y="185.80" font-size="3.0" font-weight="normal" text-anchor="middle" fill="#444" style="stroke:none">10<tspan dy="-1" font-size="70%">1</tspan></text>
<text x="66.00" y="185.80" font-size="3.0" font-weight="normal" text-anchor="middle" fill="#444" style="stroke:none">10<tspan dy="-1" font-size="70%">2</tspan></text>
<text x="86.70" y="185.80" font-size="3.0" font-weight="normal" text-anchor="middle" fill="#444" style="stroke:none">10<tspan dy="-1" font-size="70%">3</tspan></text>
<text transform="translate(19.6,177.5) rotate(-90)" font-size="3.0" text-anchor="middle" fill="#444" style="stroke:none">10<tspan dy="-1" font-size="70%">0</tspan></text>
<text transform="translate(19.6,156) rotate(-90)" font-size="3.0" text-anchor="middle" fill="#444" style="stroke:none">10<tspan dy="-1" font-size="70%">1</tspan></text>
<text transform="translate(19.6,133.5) rotate(-90)" font-size="3.0" text-anchor="middle" fill="#444" style="stroke:none">10<tspan dy="-1" font-size="70%">2</tspan></text>
<text transform="translate(19.6,112) rotate(-90)" font-size="3.0" text-anchor="middle" fill="#444" style="stroke:none">10<tspan dy="-1" font-size="70%">3</tspan></text>
<rect x="22" y="395.5" width="80" height="82.0" fill="#fff" stroke="#b4b4b4" stroke-width="0.7"/>
<path d="M89.2,450.6h.01M83.5,457.4h.01M79.8,454.9h.01M80.9,458.7h.01M83.7,467.6h.01M83.1,468.2h.01M83.8,460.0h.01M81.7,451.4h.01M77.5,458.5h.01M81.8,461.6h.01M83.4,449.1h.01M80.1,450.2h.01M85.4,458.1h.01M82.7,451.8h.01M78.4,454.4h.01M82.0,462.6h.01M77.6,461.6h.01M79.7,454.8h.01M81.3,455.5h.01M83.7,465.9h.01M83.3,454.7h.01M83.6,461.9h.01M84.9,461.1h.01M77.3,452.9h.01M81.1,466.2h.01M81.9,466.1h.01M83.2,449.6h.01M82.4,463.3h.01M83.5,447.2h.01M83.6,454.3h.01M75.8,454.4h.01M76.3,448.9h.01M86.7,475.0h.01M83.6,473.9h.01M83.3,451.2h.01M74.8,466.1h.01M75.4,436.4h.01M80.3,459.5h.01M79.6,467.2h.01M82.0,460.6h.01M83.7,454.3h.01M82.9,474.9h.01M82.8,463.2h.01M80.6,458.6h.01M77.0,455.5h.01M82.4,467.9h.01M85.2,454.4h.01M78.9,473.6h.01M85.1,443.9h.01M81.3,451.9h.01M80.5,445.4h.01M81.0,455.0h.01M81.6,467.4h.01M83.0,449.4h.01M77.0,454.9h.01M85.9,466.6h.01M80.5,468.4h.01M83.7,454.3h.01M83.7,458.5h.01M78.9,455.7h.01M82.9,469.7h.01M79.2,461.1h.01M82.4,458.8h.01M78.6,469.3h.01M86.4,472.0h.01M83.8,471.1h.01M84.1,467.2h.01M81.4,461.0h.01M81.4,450.8h.01M81.1,450.3h.01M78.9,456.1h.01M80.5,475.9h.01M87.9,468.0h.01M84.9,452.4h.01M83.3,447.7h.01M80.5,455.4h.01M81.3,466.2h.01M80.0,475.8h.01M85.1,446.6h.01M85.3,449.4h.01M83.0,459.3h.01M85.0,464.2h.01M83.7,458.1h.01M88.5,455.6h.01M82.5,455.5h.01M82.9,451.6h.01M81.2,463.4h.01M80.6,463.1h.01M80.6,470.8h.01M82.0,473.5h.01M84.0,458.3h.01M85.4,468.7h.01M87.2,470.5h.01M85.2,449.9h.01M85.3,458.6h.01M83.7,469.5h.01M80.2,470.1h.01M89.9,463.8h.01M81.5,470.4h.01M83.0,467.8h.01M86.4,447.2h.01M83.4,447.1h.01M80.2,464.2h.01M78.7,453.5h.01M81.0,461.8h.01M83.5,462.9h.01M80.9,453.2h.01M83.7,452.3h.01M79.9,464.9h.01M79.9,452.0h.01M85.9,458.9h.01M75.4,453.2h.01M88.5,476.2h.01M84.6,465.2h.01M83.4,444.6h.01M85.5,461.5h.01M81.7,446.2h.01M80.4,458.3h.01M81.6,461.0h.01M81.2,467.2h.01M84.3,449.9h.01M80.5,462.6h.01M80.7,470.4h.01M80.7,461.2h.01M84.3,450.1h.01M86.3,457.5h.01M80.2,453.6h.01M77.1,448.2h.01M87.0,458.1h.01M81.5,460.7h.01M84.2,452.8h.01M81.7,461.3h.01M85.5,461.2h.01M87.5,457.4h.01M81.3,448.0h.01M82.2,464.3h.01M81.6,457.8h.01M79.3,454.4h.01M81.0,458.4h.01M85.7,463.2h.01M85.2,468.6h.01M80.9,469.9h.01M82.5,448.6h.01M80.5,458.5h.01M77.6,476.7h.01M85.0,449.5h.01M82.7,461.2h.01M80.0,461.2h.01M82.3,462.1h.01M78.6,463.3h.01M81.5,452.3h.01M75.5,457.6h.01M81.2,474.4h.01M87.0,469.1h.01M83.6,461.1h.01M83.9,447.3h.01M86.7,456.5h.01M80.0,459.0h.01M73.8,448.4h.01M78.7,446.5h.01M84.1,471.8h.01M82.4,456.5h.01M83.3,455.0h.01M82.7,462.3h.01M81.6,455.7h.01M82.5,459.5h.01M84.4,446.9h.01M78.8,455.1h.01M83.8,448.6h.01M86.0,470.5h.01M80.0,467.9h.01M75.8,458.1h.01M77.3,467.5h.01M84.9,463.0h.01M80.5,449.8h.01M83.5,454.8h.01M84.3,446.1h.01M83.6,462.9h.01M75.2,448.6h.01M80.0,454.0h.01M76.9,458.9h.01M78.7,458.1h.01M76.5,449.2h.01M84.3,445.0h.01M82.1,470.3h.01M84.7,448.1h.01M89.1,454.2h.01M85.1,466.3h.01M81.2,463.7h.01M73.6,459.4h.01M82.7,455.9h.01M82.5,467.2h.01M85.1,453.6h.01M84.6,468.0h.01M82.5,461.7h.01M74.6,446.0h.01M83.3,446.6h.01M84.8,467.9h.01M79.1,449.3h.01M81.5,460.4h.01M84.7,456.7h.01M82.2,450.6h.01M83.0,452.4h.01M85.2,464.1h.01M77.0,461.3h.01M78.7,466.2h.01M78.9,468.6h.01M85.4,474.1h.01M83.1,458.9h.01M85.9,448.7h.01M82.0,456.0h.01M81.9,445.8h.01M76.9,444.8h.01M86.7,455.8h.01M84.0,457.5h.01M81.4,468.9h.01M74.9,456.7h.01M79.7,451.1h.01M77.1,446.2h.01M78.4,467.2h.01M80.0,454.7h.01M81.5,463.4h.01M85.3,460.0h.01M82.1,462.6h.01M79.6,460.2h.01M87.3,453.3h.01M79.4,446.2h.01M82.3,463.4h.01M80.8,455.8h.01M85.7,458.7h.01M84.3,455.6h.01M86.1,465.7h.01M81.7,453.7h.01M90.0,449.9h.01M79.1,438.7h.01M84.2,459.0h.01M81.9,446.4h.01M82.2,452.3h.01M78.5,456.6h.01M83.1,457.4h.01M80.6,464.4h.01M82.9,455.7h.01M83.9,461.0h.01M85.0,465.2h.01M84.4,453.9h.01M86.2,466.6h.01M80.5,468.5h.01M82.4,450.7h.01M82.0,448.4h.01M85.6,448.6h.01M86.7,451.8h.01M81.8,468.8h.01M83.3,445.6h.01M81.8,444.2h.01M84.2,450.6h.01M81.9,457.7h.01M77.6,461.3h.01M87.7,451.5h.01M80.4,461.7h.01M85.9,451.8h.01M82.8,461.6h.01M85.4,452.2h.01M89.8,474.9h.01M78.0,452.5h.01M83.3,453.7h.01M80.6,458.8h.01M80.0,454.0h.01M82.9,455.7h.01M83.3,467.1h.01M85.7,459.6h.01M88.5,455.8h.01M85.0,473.2h.01M82.9,465.3h.01M80.8,454.4h.01M82.9,462.7h.01M83.4,464.2h.01M83.3,458.3h.01M80.4,458.1h.01M82.5,458.9h.01M79.0,469.0h.01M85.6,460.8h.01M80.9,467.7h.01M81.6,457.1h.01M84.1,454.8h.01M82.7,455.3h.01M84.2,462.4h.01M84.5,462.5h.01M83.3,462.1h.01M84.8,451.6h.01M78.8,459.7h.01M82.9,457.2h.01M86.9,462.8h.01M86.2,459.9h.01M78.2,448.5h.01M85.6,459.5h.01M80.9,469.2h.01M87.6,462.3h.01M86.3,456.8h.01M79.5,446.4h.01M85.7,447.2h.01M81.2,459.8h.01M84.1,444.7h.01M81.7,452.9h.01M86.8,457.7h.01M80.4,472.5h.01M82.9,465.4h.01M83.4,458.0h.01M84.6,453.6h.01M78.2,454.1h.01M84.3,456.3h.01M85.6,464.8h.01M83.0,467.8h.01M83.5,461.7h.01M81.6,458.4h.01M82.2,467.4h.01M87.1,467.6h.01M83.1,458.3h.01M83.2,454.8h.01M82.4,456.7h.01M82.3,440.9h.01M82.4,464.3h.01M79.2,472.9h.01M82.8,454.9h.01M86.6,451.9h.01M90.5,453.8h.01M85.2,470.3h.01M84.5,460.3h.01M80.3,458.2h.01M83.1,466.9h.01M75.8,464.0h.01M79.1,454.5h.01M82.1,454.4h.01M84.2,446.7h.01M83.8,451.5h.01M81.3,458.7h.01M78.2,462.5h.01M88.8,454.2h.01M79.7,470.9h.01M87.4,443.5h.01M81.3,453.0h.01M82.9,458.5h.01M79.4,455.9h.01M85.7,452.0h.01M83.1,464.1h.01M87.5,462.5h.01M83.1,451.9h.01M83.2,469.6h.01M83.8,468.7h.01M81.0,465.3h.01M81.7,453.9h.01M80.5,468.5h.01M84.2,457.9h.01M81.6,465.5h.01M81.1,468.0h.01M83.3,454.9h.01M81.9,451.2h.01M79.2,455.4h.01M80.9,456.5h.01M80.2,454.1h.01M83.4,449.0h.01M74.8,472.4h.01M82.7,460.7h.01M85.9,468.1h.01M86.7,466.6h.01M84.7,463.0h.01M82.0,458.4h.01M71.7,472.0h.01M82.1,451.6h.01M85.9,453.9h.01M83.6,452.7h.01M79.0,467.9h.01M82.8,447.2h.01M84.4,466.3h.01M81.6,464.8h.01M86.3,468.4h.01M84.3,465.3h.01M87.3,461.0h.01M81.6,457.2h.01M92.1,451.5h.01M82.5,445.0h.01M82.3,457.9h.01M82.2,465.3h.01M86.9,461.0h.01M80.0,455.4h.01M82.5,453.7h.01M82.2,463.4h.01M83.1,475.0h.01M77.4,460.3h.01M85.6,450.7h.01M77.3,475.5h.01M85.3,463.5h.01M86.0,451.5h.01M79.0,471.4h.01M82.7,446.7h.01M82.0,471.5h.01M79.2,446.8h.01M75.4,458.0h.01M82.1,454.1h.01M80.7,457.0h.01M80.5,454.7h.01M85.3,459.4h.01M84.0,444.8h.01M79.6,467.1h.01M82.8,467.2h.01M78.0,464.2h.01M80.7,459.3h.01M80.3,451.7h.01M79.2,458.1h.01M85.5,450.8h.01M80.6,451.5h.01M79.8,464.4h.01M81.1,451.8h.01M84.5,461.9h.01M83.4,460.3h.01M80.6,465.5h.01M80.5,460.9h.01M82.9,468.2h.01M81.9,465.5h.01M77.2,460.2h.01M83.0,460.0h.01M76.3,464.9h.01M80.5,453.9h.01M87.1,457.4h.01M85.2,445.8h.01M84.5,460.8h.01M83.3,451.8h.01M83.5,457.7h.01M86.5,455.3h.01M77.5,467.5h.01M79.1,457.5h.01M84.7,472.3h.01M84.1,464.9h.01M83.0,460.3h.01M82.2,461.8h.01M79.7,460.9h.01M85.9,460.5h.01M82.0,465.2h.01M79.8,457.7h.01M89.3,465.7h.01M84.7,458.5h.01M80.3,450.6h.01M82.5,469.4h.01M82.3,465.9h.01M81.6,460.2h.01M83.6,476.7h.01M79.7,466.6h.01M82.4,463.7h.01M80.3,466.4h.01M80.4,462.5h.01M81.3,453.7h.01M84.3,462.7h.01M76.4,464.9h.01M84.9,460.9h.01M83.5,461.6h.01M83.4,456.8h.01M85.6,469.1h.01M80.0,460.0h.01M79.7,455.9h.01M85.4,459.7h.01M83.1,456.6h.01M89.5,468.5h.01M83.7,461.0h.01M87.7,468.8h.01M83.4,458.1h.01M79.1,469.9h.01M87.6,476.4h.01M85.2,444.4h.01M84.5,453.8h.01M80.0,453.1h.01M79.9,455.5h.01M84.1,454.1h.01M81.4,458.4h.01M88.5,465.5h.01M80.6,465.6h.01M87.4,458.3h.01M84.7,467.8h.01M78.3,460.7h.01M82.1,465.9h.01M86.4,455.8h.01M78.0,455.6h.01M82.5,454.5h.01M83.2,450.5h.01M84.1,465.2h.01M88.5,458.6h.01M85.5,454.1h.01M80.5,453.4h.01M82.1,449.6h.01M77.2,476.7h.01M81.6,459.5h.01M83.0,456.2h.01M81.9,468.1h.01M83.3,468.0h.01M79.0,463.1h.01M79.8,449.6h.01M84.7,461.3h.01M84.6,464.3h.01M76.7,463.7h.01M88.1,460.8h.01M85.3,470.4h.01M87.8,440.4h.01M81.6,458.3h.01M81.7,467.8h.01M78.8,440.8h.01M83.3,457.5h.01M85.6,467.9h.01M83.6,469.7h.01M78.6,458.9h.01M78.5,473.8h.01M81.7,466.8h.01M83.9,465.1h.01M85.5,468.0h.01M84.8,460.3h.01M84.7,444.9h.01M79.8,470.5h.01M84.2,448.7h.01M78.7,450.3h.01M81.3,466.0h.01M82.4,465.3h.01M78.7,458.7h.01M83.0,462.6h.01M84.6,460.4h.01M84.9,468.8h.01M83.9,450.3h.01M80.5,452.9h.01M87.1,465.5h.01M82.7,455.0h.01M80.8,470.8h.01M82.0,454.9h.01M80.2,464.6h.01M77.0,455.3h.01M84.3,465.7h.01M84.2,457.2h.01M84.9,472.1h.01M80.0,453.1h.01M81.4,460.2h.01M81.0,454.6h.01M75.9,466.1h.01M79.4,459.7h.01M81.0,464.7h.01M78.9,450.9h.01M82.7,460.0h.01M81.0,462.4h.01M81.0,456.7h.01M79.0,459.3h.01M85.2,458.3h.01M82.3,466.7h.01M81.3,454.5h.01M82.8,472.1h.01M81.3,458.9h.01M83.4,456.1h.01M81.4,469.1h.01M77.4,463.2h.01M85.2,468.9h.01M83.2,463.1h.01M80.8,446.4h.01M83.1,460.8h.01M83.7,469.5h.01M90.0,463.4h.01M87.6,461.0h.01M83.5,452.1h.01M83.3,454.9h.01M83.1,449.2h.01M85.8,448.1h.01M83.9,444.0h.01M82.5,461.5h.01M84.9,471.2h.01M78.9,458.5h.01M81.8,459.8h.01M86.1,454.8h.01M79.4,454.7h.01M85.1,453.5h.01M77.1,456.0h.01M86.0,471.5h.01M80.5,454.4h.01M84.7,467.2h.01M82.4,460.0h.01M84.8,447.7h.01M86.7,451.5h.01M76.8,469.4h.01M82.6,465.7h.01M77.9,461.9h.01M83.4,461.1h.01M83.0,458.9h.01M82.3,450.5h.01M88.4,455.6h.01M78.7,461.7h.01M81.7,453.6h.01M91.9,462.5h.01M77.1,455.6h.01M81.3,458.7h.01M84.3,463.0h.01M88.1,456.3h.01M81.6,467.9h.01M86.1,457.6h.01M81.0,468.5h.01M84.5,468.6h.01M85.9,463.7h.01M83.2,461.0h.01M82.6,450.0h.01M84.2,466.3h.01M84.7,454.6h.01M82.0,468.6h.01M85.9,452.7h.01M78.2,461.4h.01M78.1,474.4h.01M82.2,465.1h.01M76.9,460.6h.01M83.1,447.9h.01M88.1,459.7h.01M83.9,457.3h.01M83.2,464.8h.01M83.7,462.8h.01M77.7,459.3h.01M78.7,461.7h.01M80.3,445.7h.01M87.3,457.4h.01M81.4,459.6h.01M81.9,464.5h.01M87.3,456.2h.01M84.4,464.7h.01M78.7,464.8h.01M85.3,458.3h.01M81.5,451.7h.01M85.5,454.2h.01M82.9,449.0h.01M81.5,446.3h.01M79.9,465.0h.01M78.9,450.8h.01M80.1,455.3h.01M78.8,460.2h.01M80.5,464.3h.01M83.6,460.7h.01M83.2,462.3h.01M76.8,474.6h.01M76.9,469.8h.01M79.8,442.4h.01M78.0,443.1h.01M82.9,456.4h.01M90.4,459.8h.01M80.1,469.3h.01M91.2,452.7h.01M79.8,458.4h.01M78.5,452.8h.01M87.1,467.5h.01M85.6,459.7h.01M86.1,445.6h.01M86.5,447.3h.01M79.4,461.8h.01M78.8,460.8h.01M83.1,467.0h.01M81.9,459.7h.01M81.5,458.2h.01M81.5,458.5h.01M83.9,467.6h.01M83.1,435.7h.01M83.1,444.8h.01M79.1,463.3h.01M74.7,453.4h.01M82.8,458.4h.01M80.7,447.6h.01M88.0,447.8h.01M79.9,464.5h.01M82.7,464.7h.01M86.2,450.4h.01M83.8,453.3h.01M82.5,458.1h.01M79.8,459.6h.01M79.6,471.9h.01M82.7,447.1h.01M74.0,445.3h.01M86.2,449.6h.01M81.2,455.2h.01M80.8,455.6h.01M81.3,472.0h.01M83.5,476.2h.01M83.5,475.8h.01M87.1,453.0h.01M86.6,461.9h.01M84.5,457.1h.01M91.3,465.9h.01M80.7,475.7h.01M85.2,468.2h.01M83.2,466.6h.01M81.8,464.9h.01M80.6,456.6h.01M81.7,463.3h.01M81.9,473.2h.01M80.6,476.5h.01M83.0,459.6h.01M86.2,456.5h.01M85.4,459.4h.01M77.9,460.4h.01M88.9,452.8h.01M85.6,450.9h.01M86.5,451.2h.01M80.8,461.0h.01M83.6,458.4h.01M88.5,466.8h.01M81.1,464.3h.01M83.4,463.4h.01M81.9,456.8h.01M83.1,452.1h.01M82.6,476.3h.01M76.6,459.2h.01M80.9,451.6h.01M82.6,457.4h.01M85.3,472.5h.01M77.8,458.2h.01M77.8,450.1h.01M82.5,464.5h.01M81.0,475.1h.01M77.2,459.2h.01M82.9,452.2h.01M82.1,445.5h.01M78.7,458.9h.01M79.1,461.1h.01M83.5,469.6h.01M84.0,454.7h.01M79.9,463.3h.01M80.5,476.8h.01M81.2,452.1h.01M82.2,456.9h.01M83.6,453.5h.01M80.7,457.7h.01M81.1,450.9h.01M82.1,457.7h.01M81.6,461.8h.01M78.8,459.5h.01M84.4,460.0h.01M82.0,453.6h.01M81.1,448.0h.01M89.2,462.8h.01M84.0,467.1h.01M82.7,461.6h.01M82.9,451.7h.01M75.7,464.8h.01M86.2,464.4h.01M82.1,464.8h.01M85.5,469.5h.01M83.8,467.8h.01M77.0,467.2h.01M85.1,450.7h.01M82.4,463.9h.01M86.4,466.5h.01M86.3,459.8h.01M82.6,463.9h.01M80.3,451.4h.01M84.5,458.0h.01M82.6,468.8h.01M74.7,457.3h.01M84.9,457.4h.01M87.0,449.4h.01M81.8,454.8h.01M81.0,449.7h.01M82.0,451.5h.01M79.3,463.7h.01M82.3,448.8h.01M82.2,463.6h.01M85.0,459.8h.01M86.4,457.7h.01M80.2,454.2h.01M83.0,438.9h.01M87.6,465.3h.01M80.6,456.8h.01M84.2,473.0h.01M77.7,467.9h.01M83.5,454.7h.01M83.8,451.9h.01M77.5,444.2h.01M89.0,454.9h.01M81.0,457.8h.01M81.0,450.5h.01M84.6,461.0h.01M83.8,448.1h.01M86.7,462.1h.01M85.9,455.6h.01M81.2,448.2h.01M86.9,462.1h.01M78.7,458.9h.01M82.2,460.1h.01M85.4,467.7h.01M83.7,450.5h.01M79.5,452.1h.01M80.2,462.6h.01M80.5,457.8h.01M84.7,454.9h.01M88.5,442.5h.01M84.3,451.6h.01M82.8,457.9h.01M82.0,452.1h.01M82.9,451.4h.01M82.8,453.5h.01M78.7,469.2h.01M82.5,452.8h.01M84.0,465.2h.01M87.7,462.2h.01M84.7,451.3h.01M88.6,454.9h.01M82.7,461.1h.01M85.1,459.8h.01M82.3,460.1h.01M87.5,468.6h.01M84.6,464.2h.01M79.6,456.1h.01M78.7,475.1h.01M77.0,448.8h.01M79.8,455.3h.01M76.9,449.9h.01M85.0,445.9h.01M85.6,462.5h.01M80.0,436.8h.01M80.1,458.9h.01M80.3,456.3h.01M82.7,457.8h.01M88.1,464.3h.01M86.4,460.6h.01M74.8,457.0h.01M83.0,449.3h.01M84.6,460.6h.01M76.4,467.3h.01M83.8,458.7h.01M80.0,468.0h.01M74.3,454.3h.01M86.2,470.9h.01M83.8,472.7h.01M80.9,451.1h.01M88.8,469.8h.01M82.6,467.1h.01M83.7,459.0h.01M84.1,470.0h.01M78.5,454.8h.01M82.1,453.8h.01M82.4,448.1h.01M81.1,465.2h.01M81.7,459.0h.01M84.5,473.0h.01M80.6,454.5h.01M85.2,464.1h.01M78.8,452.5h.01M80.8,459.3h.01M82.4,466.5h.01M87.8,468.6h.01M80.6,454.9h.01M79.7,452.8h.01M85.7,463.0h.01M75.9,459.3h.01M85.9,447.1h.01M84.4,474.4h.01M76.5,454.2h.01M78.8,461.6h.01M83.2,470.5h.01M83.1,457.5h.01M82.1,468.6h.01M79.3,457.2h.01M80.3,456.2h.01M86.2,454.5h.01M85.9,453.3h.01M79.0,447.9h.01M91.3,459.2h.01M86.5,457.9h.01M83.1,452.5h.01M86.1,465.0h.01M80.2,465.6h.01M86.2,468.7h.01M83.6,468.7h.01M85.7,460.3h.01M77.1,451.8h.01M87.1,453.7h.01M82.3,458.0h.01M80.4,473.5h.01M80.7,471.7h.01M82.8,457.0h.01M82.8,448.9h.01M83.2,464.1h.01M82.8,460.2h.01M80.1,464.8h.01M80.2,455.3h.01M80.0,471.4h.01M83.0,456.9h.01M86.3,456.4h.01M78.8,461.3h.01M84.2,467.6h.01M76.7,453.8h.01M86.2,463.9h.01M82.1,445.5h.01M82.3,453.5h.01M79.2,461.5h.01M79.6,460.6h.01M85.1,456.0h.01M85.6,470.7h.01M86.6,451.9h.01M78.7,452.0h.01M78.1,453.6h.01M83.3,460.3h.01M84.0,471.3h.01M81.5,452.3h.01M79.3,450.7h.01M84.1,471.3h.01M83.7,456.5h.01M83.1,468.5h.01M81.2,465.4h.01M82.7,455.5h.01M85.8,467.7h.01M82.5,453.2h.01M78.6,452.6h.01M86.7,460.9h.01M83.2,464.4h.01M82.7,462.6h.01M80.1,470.3h.01M79.7,466.2h.01M74.8,452.4h.01M78.7,464.0h.01M78.3,448.6h.01M84.6,471.7h.01M85.2,475.0h.01M79.1,442.7h.01M80.5,453.3h.01M79.1,459.4h.01M87.4,467.9h.01M83.6,464.4h.01M80.2,470.3h.01M80.3,463.2h.01M80.2,456.0h.01M84.8,472.5h.01M78.0,463.0h.01M91.2,463.6h.01M84.1,468.7h.01M83.8,465.8h.01M83.2,450.0h.01M84.0,459.1h.01M87.3,447.1h.01M79.4,475.5h.01M81.7,471.9h.01M80.7,468.1h.01M78.3,448.2h.01M81.9,462.5h.01M81.5,472.4h.01M80.7,467.0h.01M80.7,452.8h.01M84.8,454.0h.01M76.2,461.2h.01M85.4,462.1h.01M80.3,449.2h.01M79.4,462.6h.01M88.1,450.2h.01M82.3,468.1h.01M84.0,459.7h.01M80.8,465.7h.01M82.0,455.3h.01M76.8,464.1h.01M84.1,463.3h.01M80.0,467.9h.01M84.5,457.5h.01M78.5,462.5h.01M85.5,443.3h.01M84.0,456.7h.01M82.0,461.6h.01M85.6,461.2h.01M78.6,463.8h.01M84.0,458.1h.01M87.3,456.8h.01M85.6,468.6h.01M83.4,461.6h.01M81.6,455.8h.01M80.8,452.3h.01M81.1,453.5h.01M81.4,457.2h.01M86.1,448.6h.01M79.6,468.3h.01M86.1,465.7h.01M83.1,476.5h.01M83.0,468.9h.01M79.5,457.0h.01M81.6,447.4h.01M84.3,472.4h.01M84.9,456.0h.01M81.6,451.3h.01M82.1,462.5h.01M78.7,466.4h.01M78.0,454.2h.01M82.5,466.5h.01M82.3,449.1h.01M78.2,460.5h.01M83.4,462.6h.01M77.6,463.1h.01M84.7,451.9h.01M79.8,464.9h.01M79.6,464.6h.01M87.4,454.1h.01M83.7,463.3h.01M84.3,462.8h.01M83.8,455.6h.01M82.3,464.9h.01M86.8,465.2h.01M87.2,466.3h.01M82.8,465.5h.01M85.6,446.3h.01M83.0,445.2h.01M84.9,469.6h.01M84.0,466.3h.01M83.5,464.4h.01M81.3,474.8h.01M86.7,460.4h.01M85.0,468.3h.01M83.2,455.9h.01M86.6,453.7h.01M84.0,463.1h.01M78.3,468.4h.01M83.8,455.7h.01M85.4,451.4h.01M86.2,461.7h.01M81.7,469.7h.01M82.7,455.6h.01M83.4,460.8h.01M77.6,456.5h.01M81.9,472.2h.01M85.0,452.8h.01M82.9,460.2h.01M86.5,467.8h.01M82.7,458.6h.01M78.0,446.1h.01M80.2,476.6h.01M80.5,465.4h.01M88.0,459.0h.01M83.3,471.5h.01M83.0,457.4h.01M80.8,465.7h.01M80.9,459.5h.01M84.8,451.6h.01M78.2,461.4h.01M81.6,454.7h.01M80.5,469.5h.01M84.8,461.1h.01M83.7,462.1h.01M82.3,451.6h.01M82.8,470.0h.01M90.6,462.1h.01M82.9,454.9h.01M86.2,447.8h.01M80.7,451.5h.01M80.9,463.3h.01M82.3,452.6h.01M83.0,468.8h.01M82.0,445.4h.01M82.5,471.4h.01M82.2,464.0h.01M82.9,461.3h.01M83.2,475.8h.01M78.2,466.7h.01M82.4,465.0h.01M83.8,459.2h.01M83.2,457.4h.01M79.2,460.7h.01M78.6,455.1h.01M86.9,471.0h.01M83.2,465.4h.01M84.6,461.3h.01M79.5,454.9h.01M88.0,455.3h.01M80.9,464.9h.01M80.0,459.4h.01M79.7,468.5h.01M83.7,474.7h.01M79.4,454.5h.01M72.3,451.3h.01M82.9,451.3h.01M78.2,454.2h.01M83.3,472.2h.01M82.4,458.0h.01M81.3,450.1h.01M84.8,464.2h.01M80.6,470.4h.01M85.1,465.9h.01M79.5,457.9h.01M79.8,457.9h.01M83.9,470.8h.01M85.8,463.8h.01M78.8,450.3h.01M81.4,460.5h.01M81.3,460.5h.01M84.2,468.8h.01M82.1,457.7h.01M79.9,464.7h.01M77.5,437.8h.01M89.0,472.9h.01M82.0,449.0h.01M88.8,469.6h.01M81.7,452.3h.01M85.8,457.9h.01M83.9,456.9h.01M85.4,449.6h.01M82.9,469.8h.01M80.5,450.7h.01M83.6,462.6h.01M78.3,452.7h.01M84.0,458.8h.01M78.0,456.9h.01M83.9,460.5h.01M83.2,456.4h.01M76.7,457.7h.01M82.2,456.0h.01M84.3,468.5h.01M84.9,468.9h.01M77.8,461.8h.01M80.3,458.8h.01M79.9,451.7h.01M86.9,470.5h.01M83.0,455.8h.01M85.7,460.2h.01M84.6,468.2h.01M81.7,462.2h.01M86.9,466.4h.01M80.0,446.7h.01M79.6,466.2h.01M80.2,455.3h.01M81.8,471.0h.01M89.1,460.0h.01M86.4,460.3h.01M84.0,458.7h.01M85.7,460.0h.01M89.5,454.5h.01M89.1,450.0h.01M76.9,457.9h.01M82.6,461.4h.01M83.5,461.3h.01M83.2,459.9h.01M86.1,456.8h.01M80.7,448.4h.01M85.2,469.3h.01M85.5,460.6h.01M82.8,461.1h.01M78.7,454.2h.01M81.0,465.5h.01M85.8,451.1h.01M91.2,464.3h.01M76.2,462.8h.01M85.2,456.6h.01M83.6,448.7h.01M83.0,458.1h.01M84.3,465.2h.01M82.9,435.4h.01M83.2,458.1h.01M80.2,459.0h.01M84.6,460.1h.01M82.3,471.2h.01M79.7,456.5h.01M86.3,469.0h.01M85.6,476.2h.01M87.5,449.8h.01M84.8,476.3h.01M81.0,464.3h.01M78.6,452.6h.01M85.2,459.7h.01M79.8,469.8h.01M80.9,463.6h.01M81.7,450.0h.01M82.6,456.5h.01M86.3,451.9h.01M82.5,458.9h.01M86.2,454.8h.01M84.0,467.9h.01M83.6,457.6h.01M81.0,463.0h.01M81.5,461.5h.01M83.1,461.4h.01M80.6,470.9h.01M84.3,460.0h.01M85.4,453.6h.01M81.4,465.7h.01M80.3,451.6h.01M79.1,446.8h.01M81.0,458.0h.01M84.3,445.0h.01M84.2,450.5h.01M83.0,471.7h.01M78.9,471.5h.01M81.0,455.8h.01M79.6,461.0h.01M88.6,447.6h.01M75.6,460.7h.01M89.5,463.0h.01M87.4,445.5h.01M84.8,454.4h.01M80.8,461.3h.01M80.6,458.3h.01M78.1,458.9h.01M76.3,470.0h.01M87.3,459.9h.01M76.9,470.0h.01M81.6,461.2h.01M78.9,468.3h.01M81.2,458.0h.01M82.4,456.0h.01M83.3,469.2h.01M82.7,462.8h.01M83.1,464.9h.01M82.0,452.8h.01M86.8,475.0h.01M83.9,456.5h.01M82.7,465.2h.01M84.0,454.4h.01M79.3,458.4h.01M83.6,458.4h.01M80.2,451.5h.01M83.4,442.3h.01M79.3,464.6h.01M76.3,457.9h.01M86.9,453.4h.01M77.8,443.8h.01M86.0,443.2h.01M83.2,447.0h.01M83.3,460.5h.01M84.7,448.6h.01M81.4,444.1h.01M82.3,464.9h.01M80.0,466.4h.01M83.8,467.6h.01M87.4,458.1h.01M87.1,458.1h.01M79.1,465.1h.01M80.5,440.7h.01M84.1,463.8h.01M86.9,465.3h.01M83.0,441.3h.01M83.0,469.2h.01M78.5,466.4h.01M85.6,458.8h.01M83.8,458.5h.01M76.8,449.7h.01M84.0,455.4h.01M84.8,471.1h.01M85.0,458.3h.01M80.0,453.1h.01M91.4,461.5h.01M86.1,475.9h.01M85.6,460.0h.01M78.7,456.2h.01M83.8,465.5h.01M86.4,452.2h.01M83.2,454.1h.01M82.0,464.7h.01M78.7,464.6h.01M84.6,466.4h.01M84.9,454.3h.01M83.2,471.9h.01M82.0,451.7h.01M85.5,457.3h.01M81.5,448.8h.01M82.1,457.1h.01M85.4,452.8h.01M78.9,463.7h.01M81.3,448.9h.01M87.3,462.4h.01M83.2,465.4h.01M83.5,463.7h.01M85.0,453.5h.01M82.6,448.6h.01M80.2,457.6h.01M84.1,468.0h.01M82.2,462.9h.01M83.2,458.2h.01M79.2,471.7h.01M80.5,471.2h.01M85.1,475.3h.01M85.1,450.4h.01M87.4,452.8h.01M80.3,462.7h.01M83.8,459.8h.01M81.4,461.5h.01M84.8,466.0h.01M82.2,475.9h.01M86.1,451.4h.01M82.1,464.4h.01M75.1,461.0h.01M81.5,454.4h.01M85.1,469.9h.01M80.0,450.7h.01M86.0,462.8h.01M82.3,463.1h.01M82.3,462.0h.01M82.6,464.0h.01M80.5,467.0h.01M79.4,475.3h.01M86.5,475.9h.01M85.5,453.1h.01M83.7,461.1h.01M82.7,464.8h.01M82.5,454.0h.01M81.2,460.9h.01M84.1,453.4h.01M87.5,461.5h.01M81.1,450.8h.01M82.6,452.4h.01M84.5,445.9h.01M77.4,461.9h.01M81.4,469.1h.01M81.7,457.6h.01M77.9,451.0h.01M95.4,455.6h.01M78.9,465.1h.01M89.5,472.8h.01M86.7,462.9h.01M77.1,463.9h.01M89.0,451.5h.01M89.2,456.6h.01M84.0,460.0h.01M77.9,460.9h.01M86.0,447.7h.01M82.5,450.4h.01M83.1,464.9h.01M82.5,452.4h.01M86.7,464.8h.01M78.4,453.6h.01M80.2,460.4h.01M86.1,457.9h.01M78.4,454.5h.01M84.4,459.8h.01M78.4,475.8h.01M89.7,464.6h.01M79.9,454.4h.01M82.1,443.2h.01M82.6,458.1h.01M84.4,453.8h.01M84.5,451.6h.01M83.2,457.2h.01M76.6,459.4h.01M80.1,473.3h.01M84.9,467.6h.01M87.6,461.2h.01M82.0,471.6h.01M85.3,463.9h.01M80.8,457.8h.01M81.1,471.1h.01M78.6,455.9h.01M87.5,463.2h.01M78.3,460.8h.01M89.2,462.4h.01M86.2,462.0h.01M80.4,462.7h.01M84.4,463.1h.01M83.2,455.1h.01M77.0,468.4h.01M80.9,474.4h.01M84.6,464.3h.01M81.7,461.4h.01M84.7,468.3h.01M82.4,459.8h.01M82.5,465.7h.01M79.1,464.8h.01M77.0,465.4h.01M85.2,449.0h.01M75.8,464.4h.01M81.7,467.6h.01M85.3,464.1h.01M91.3,458.8h.01M81.3,467.8h.01M82.7,468.5h.01M83.0,453.1h.01M92.4,458.4h.01M82.5,455.1h.01M90.0,468.3h.01M86.7,457.4h.01M82.3,465.6h.01M83.6,455.7h.01M80.6,459.4h.01M84.9,474.9h.01M85.8,452.8h.01M81.1,463.4h.01M83.9,461.6h.01M82.2,462.2h.01M82.0,463.9h.01M80.1,448.5h.01M84.3,458.3h.01M85.3,446.3h.01M86.1,452.1h.01M84.5,445.0h.01M87.4,463.7h.01M86.9,444.5h.01M80.2,453.0h.01M79.7,466.6h.01M80.0,464.7h.01M84.9,448.6h.01M78.0,464.1h.01M87.5,463.2h.01M79.5,460.1h.01M84.8,459.2h.01M83.6,476.9h.01M80.1,457.2h.01M76.0,454.7h.01M80.9,458.1h.01M86.2,432.1h.01M87.9,450.4h.01M85.9,458.5h.01M83.3,474.9h.01M78.4,465.8h.01M81.1,463.1h.01M79.8,468.4h.01M79.2,457.6h.01M79.2,459.6h.01M83.6,456.1h.01M82.2,462.1h.01M84.4,454.5h.01M82.6,457.6h.01M82.5,455.6h.01M81.0,466.2h.01M77.0,455.4h.01M87.0,453.4h.01M78.5,445.1h.01M80.4,464.6h.01M85.9,463.4h.01M82.9,456.6h.01M78.0,457.5h.01M80.2,461.5h.01M87.3,453.7h.01M84.9,461.3h.01M79.3,460.0h.01M81.1,453.4h.01M82.5,465.1h.01M77.3,467.8h.01M80.4,458.6h.01M80.7,460.4h.01M83.6,469.2h.01M86.9,449.6h.01M88.8,452.7h.01M82.3,461.4h.01M87.7,449.0h.01M84.2,462.6h.01M81.7,473.6h.01M82.4,463.9h.01M84.3,458.3h.01M85.2,441.5h.01M80.0,463.6h.01M85.0,464.1h.01M82.6,453.6h.01M85.9,468.1h.01M83.0,454.0h.01M81.6,451.5h.01M80.0,463.5h.01M83.7,474.7h.01M79.6,469.5h.01M80.0,464.8h.01M83.3,461.3h.01M83.0,469.0h.01M85.4,454.8h.01M80.3,461.8h.01M82.1,438.6h.01M82.5,472.6h.01M79.3,453.9h.01M78.3,461.6h.01M81.4,451.6h.01M83.4,476.7h.01M78.2,471.5h.01M80.1,460.8h.01M84.6,457.7h.01M82.3,475.9h.01M81.7,468.8h.01M84.4,457.9h.01M81.8,449.4h.01M81.0,446.3h.01M84.4,447.7h.01M82.8,475.8h.01M85.4,474.2h.01M79.8,456.9h.01M84.1,467.7h.01M87.7,471.5h.01M76.8,450.9h.01M86.6,449.7h.01M83.0,468.3h.01M85.5,461.1h.01M89.2,457.5h.01M87.7,473.4h.01M83.1,469.4h.01M80.5,466.7h.01M80.4,440.2h.01M83.2,461.0h.01M83.8,461.0h.01M80.6,467.8h.01M79.4,467.4h.01M78.3,448.8h.01M80.9,456.9h.01M77.9,463.9h.01M83.7,449.2h.01M85.6,454.9h.01M84.7,453.7h.01M82.1,460.7h.01M82.5,458.0h.01M86.5,452.7h.01M82.3,469.0h.01M84.2,458.6h.01M78.3,460.0h.01M81.5,464.6h.01M82.9,455.1h.01M78.9,458.1h.01M82.3,464.5h.01M83.6,458.2h.01M83.6,473.9h.01M79.7,474.7h.01M84.5,453.6h.01M78.8,456.0h.01M83.3,461.4h.01M80.3,440.1h.01M85.0,442.0h.01M84.7,439.0h.01M82.4,453.4h.01M75.3,437.7h.01M83.9,428.1h.01M76.3,436.4h.01M80.1,435.4h.01M80.0,442.4h.01M82.7,446.6h.01M81.2,444.2h.01M80.6,438.8h.01M81.5,433.7h.01M85.1,436.5h.01M86.3,454.9h.01M85.2,442.3h.01M78.0,439.0h.01M79.2,427.4h.01M78.9,439.5h.01M82.6,443.1h.01M84.6,443.3h.01M79.4,434.2h.01M84.1,446.6h.01M85.1,430.7h.01M76.7,427.4h.01M87.3,436.0h.01M84.5,446.2h.01M82.9,442.6h.01M81.5,438.6h.01M78.8,443.2h.01M82.2,451.0h.01M83.7,444.2h.01M83.7,446.1h.01M89.6,449.6h.01M86.8,434.8h.01M78.0,434.3h.01M82.9,436.3h.01M80.9,443.8h.01M82.7,446.8h.01M81.0,445.9h.01M76.3,441.6h.01M83.0,450.7h.01M86.9,434.8h.01M88.9,437.2h.01M77.0,442.3h.01M82.8,458.0h.01M87.5,440.0h.01M77.1,454.2h.01M84.8,438.6h.01M78.9,442.6h.01M82.7,433.5h.01M88.2,424.3h.01M87.1,443.2h.01M90.8,434.2h.01M78.7,457.6h.01M82.2,448.2h.01M90.6,450.0h.01M85.7,447.2h.01M84.7,450.7h.01M79.6,439.9h.01M80.9,451.8h.01M80.0,439.1h.01M78.8,440.6h.01M88.6,433.1h.01M81.8,444.9h.01M79.7,422.6h.01M76.3,444.8h.01M86.3,457.7h.01M84.4,453.9h.01M85.7,442.1h.01M83.3,439.9h.01M77.4,432.7h.01M81.9,442.4h.01M84.2,430.2h.01M81.3,435.4h.01M85.3,438.6h.01M84.9,434.2h.01M80.0,451.2h.01M81.2,437.5h.01M81.2,445.9h.01M86.5,441.9h.01M83.4,439.6h.01M83.4,444.4h.01M76.6,437.3h.01M81.4,439.9h.01M78.6,434.5h.01M85.8,436.6h.01M78.1,445.3h.01M85.4,450.8h.01M80.4,428.9h.01M88.6,444.8h.01M82.1,425.1h.01M82.0,439.4h.01M81.3,445.3h.01M81.1,446.5h.01M80.6,439.7h.01M80.3,436.9h.01M87.8,431.5h.01M85.2,443.8h.01M81.6,436.6h.01M85.0,435.4h.01M82.5,443.3h.01M81.4,428.4h.01M81.7,435.8h.01M80.4,436.0h.01M73.1,435.6h.01M86.0,428.7h.01M80.7,431.1h.01M77.9,445.6h.01M79.1,436.1h.01M83.3,447.2h.01M81.4,447.8h.01M84.2,429.8h.01M90.4,442.7h.01M79.7,450.4h.01M81.3,426.7h.01M87.3,438.2h.01M81.1,444.4h.01M83.3,439.8h.01M90.8,458.2h.01M80.8,427.1h.01M80.2,456.3h.01M76.3,443.8h.01M86.8,443.4h.01M89.5,454.0h.01M84.0,449.5h.01M84.2,450.3h.01M86.4,432.0h.01M83.5,443.5h.01M83.5,444.9h.01" stroke="#1a1a1a" stroke-width="0.75" stroke-linecap="round" fill="none"/>
<rect x="72.5" y="423.5" width="18.0" height="23.0" fill="none" stroke="#222" stroke-width="0.9"/>
<line x1="10.70" y1="477.00" x2="10.70" y2="402.80" stroke="#111" stroke-width="1.05" />
<path d="M7.8999999999999995,402.8 L13.5,402.8 L10.7,396.8 Z" fill="#111"/>
<line x1="22.00" y1="490.30" x2="91.80" y2="490.30" stroke="#111" stroke-width="1.05" />
<path d="M91.8,487.5 L91.8,493.1 L97.8,490.3 Z" fill="#111"/>
<text transform="translate(6.99,441.55) rotate(-90)" font-size="8.3" font-weight="bold" text-anchor="middle" textLength="68.50" lengthAdjust="spacingAndGlyphs" fill="#111">Anti-CD25-FITC</text>
<text x="21.50" y="503.30" font-size="8.4" font-weight="bold" text-anchor="start" textLength="71.40" lengthAdjust="spacingAndGlyphs" fill="#111" >Anti-CD4-PE-Cy5</text>
<text x="58.50" y="413.00" font-size="6.8" font-weight="bold" text-anchor="start" textLength="29.50" lengthAdjust="spacingAndGlyphs" fill="#111" >Gated on</text>
<text x="56.00" y="421.50" font-size="6.8" font-weight="bold" text-anchor="start" textLength="34.00" lengthAdjust="spacingAndGlyphs" fill="#111" >CD4<tspan dy="-2" font-size="70%">+</tspan><tspan dy="2">CD25</tspan><tspan dy="-2" font-size="70%">+</tspan></text>
<text x="23.00" y="486.20" font-size="3.0" font-weight="normal" text-anchor="middle" fill="#444" style="stroke:none">10<tspan dy="-1" font-size="70%">0</tspan></text>
<text x="43.00" y="486.20" font-size="3.0" font-weight="normal" text-anchor="middle" fill="#444" style="stroke:none">10<tspan dy="-1" font-size="70%">1</tspan></text>
<text x="62.30" y="486.20" font-size="3.0" font-weight="normal" text-anchor="middle" fill="#444" style="stroke:none">10<tspan dy="-1" font-size="70%">2</tspan></text>
<text x="82.00" y="486.20" font-size="3.0" font-weight="normal" text-anchor="middle" fill="#444" style="stroke:none">10<tspan dy="-1" font-size="70%">3</tspan></text>
<text transform="translate(17.6,478) rotate(-90)" font-size="3.0" text-anchor="middle" fill="#444" style="stroke:none">10<tspan dy="-1" font-size="70%">0</tspan></text>
<text transform="translate(17.6,456.5) rotate(-90)" font-size="3.0" text-anchor="middle" fill="#444" style="stroke:none">10<tspan dy="-1" font-size="70%">1</tspan></text>
<text transform="translate(17.6,435) rotate(-90)" font-size="3.0" text-anchor="middle" fill="#444" style="stroke:none">10<tspan dy="-1" font-size="70%">2</tspan></text>
<text transform="translate(17.6,413.5) rotate(-90)" font-size="3.0" text-anchor="middle" fill="#444" style="stroke:none">10<tspan dy="-1" font-size="70%">3</tspan></text>
<line x1="96.00" y1="122.00" x2="176.00" y2="1.00" stroke="#000" stroke-width="1.25" stroke-dasharray="1.0 1.2"/>
<line x1="96.00" y1="177.00" x2="176.00" y2="283.00" stroke="#000" stroke-width="1.25" stroke-dasharray="1.0 1.2"/>
<line x1="90.50" y1="423.50" x2="133.70" y2="296.50" stroke="#000" stroke-width="1.25" stroke-dasharray="1.0 1.2"/>
<line x1="90.50" y1="446.50" x2="133.70" y2="552.80" stroke="#000" stroke-width="1.25" stroke-dasharray="1.0 1.2"/>
</svg></body></html>
